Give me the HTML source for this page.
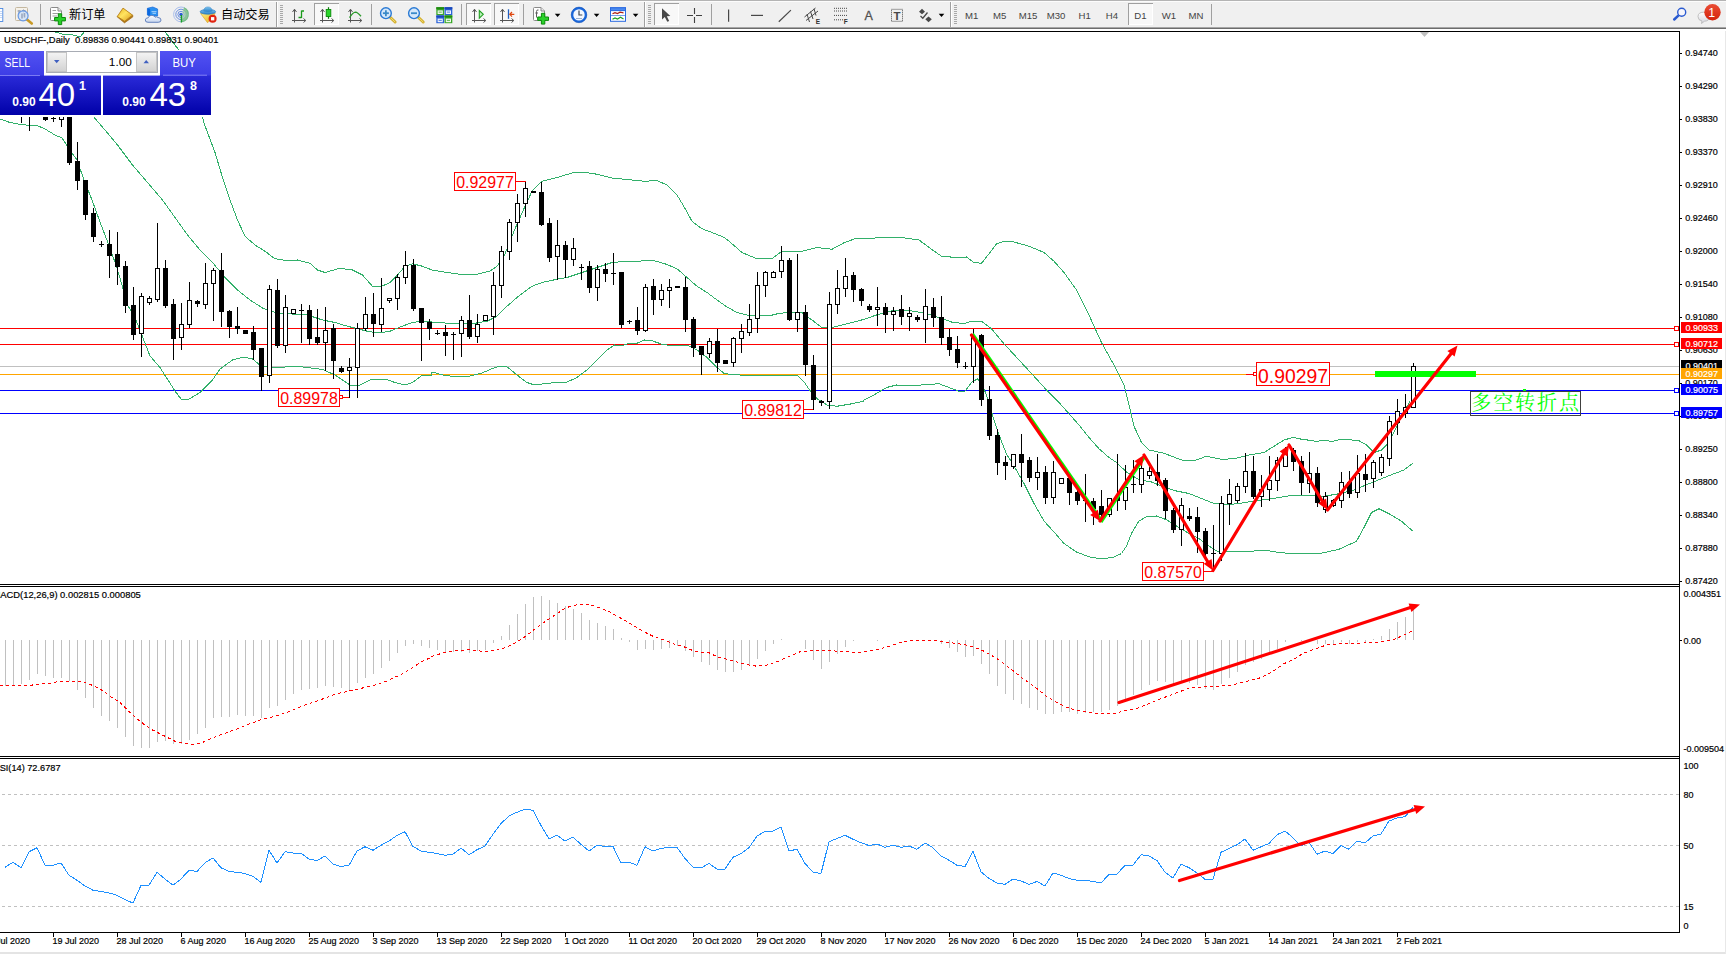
<!DOCTYPE html>
<html lang="zh"><head><meta charset="utf-8"><title>USDCHF-,Daily</title>
<style>
html,body{margin:0;padding:0;background:#fff;overflow:hidden}
body{width:1726px;height:954px;position:relative;font-family:"Liberation Sans", "Noto Sans CJK SC", sans-serif}
svg{position:absolute;left:0;top:0;display:block}
text{font-family:"Liberation Sans", "Noto Sans CJK SC", sans-serif}
.ax{font-size:9.6px;fill:#000;stroke:#000;stroke-width:0.2px}
.axw{font-size:9.6px;fill:#fff;stroke:#fff;stroke-width:0.2px}
.crisp{shape-rendering:crispEdges}
.tf{font-size:9.6px;fill:#444}
</style></head><body>
<svg width="1726" height="954" viewBox="0 0 1726 954">
<defs>
<linearGradient id="gsell" x1="0" y1="0" x2="0" y2="1"><stop offset="0" stop-color="#5252f2"/><stop offset="1" stop-color="#3c3ce6"/></linearGradient>
<linearGradient id="gprice" x1="0" y1="0" x2="0" y2="1"><stop offset="0" stop-color="#2a2ad8"/><stop offset="1" stop-color="#0000a8"/></linearGradient>
<linearGradient id="gbtn" x1="0" y1="0" x2="0" y2="1"><stop offset="0" stop-color="#f4f4f4"/><stop offset="1" stop-color="#d2d2d2"/></linearGradient>
</defs>
<rect width="1726" height="954" fill="#fff"/>

<g class="crisp">
<rect x="0" y="328" width="1679" height="1" fill="#ff0000"/>
<rect x="0" y="344" width="1679" height="1" fill="#ff0000"/>
<rect x="0" y="366" width="1679" height="1" fill="#c0c0c0"/>
<rect x="0" y="374" width="1679" height="1" fill="#ffa500"/>
<rect x="0" y="390" width="1679" height="1" fill="#0000ff"/>
<rect x="0" y="413" width="1679" height="1" fill="#0000ff"/>
<line x1="2" y1="794.5" x2="1679" y2="794.5" stroke="#c0c0c0" stroke-width="1" stroke-dasharray="3,3"/>
<line x1="2" y1="845.5" x2="1679" y2="845.5" stroke="#c0c0c0" stroke-width="1" stroke-dasharray="3,3"/>
<line x1="2" y1="906.5" x2="1679" y2="906.5" stroke="#c0c0c0" stroke-width="1" stroke-dasharray="3,3"/>
<polyline points="202,115 204,123 207.5,132.5 215,152.5 222.5,177.5 230,200 237.5,220 245,236.25 255,245 265,251.25 275,258.75 287.5,260.75 297.5,260 310,263.25 317.5,270 325,272.5 340,268.25 352.5,270 362.5,275 372.5,286.25 380,287 390,282.5 397.5,275 405,266.25 412.5,263.75 422.5,266.25 432,270 447,272.5 459.5,274.25 477,274.25 489.5,271.25 497,266.25 504.5,255 514.5,230 524.5,207.5 532,191.25 542,181.25 557,177.5 572,173 582,172 594.5,173.75 612,178 632,180 644.5,181.25 657,180.5 667,185 677,195 684.5,207.5 692,221.25 702,228.75 712,232.5 724.5,237.5 732,243.75 742,252.5 757,258.75 772,258.75 782,251.25 802,251.25 817,247.5 832,249.25 844.5,242.5 857,238 863.5,238 875,238 890,237.5 905,238 919,240 929,247.5 941.5,256.25 956.5,257.5 966.5,257 974,262.5 981.5,263.25 989,253.75 996.5,243.75 1004,241.25 1014,242 1029,246.25 1044,252.5 1054,261.25 1064,272.5 1076.5,290 1089,315 1101.5,342.5 1114,365 1124,385 1129,405 1134,426.25 1141.5,442.5 1149,450 1164,453.25 1181.5,460 1194,460.75 1206.5,456.25 1221.5,459.25 1234,458.75 1249,455 1264,452.5 1274,446.25 1284,440 1293.5,437.3 1300.5,439 1316.5,441.3 1322.5,440.5 1332.5,441.3 1339.5,439.6 1358,440.2 1366.5,445 1374,452.5 1381.5,450 1389,442.5 1396,428 1403,414 1410,401" fill="none" stroke="#32b06a" stroke-width="1"/>
<polyline points="92,115 93.75,117 105,130 117.5,145 132.5,165 147.5,182.5 162.5,200 175,217.5 187.5,235 200,250 212.5,262.5 225,277.5 237.5,290 250,300 262.5,308 275,312.5 287.5,313.75 307.5,315 322.5,320 335,322.5 347.5,326.25 357.5,328.75 367.5,331.25 377.5,333 390,331.25 400,327 412.5,322.5 422.5,321.25 432,322 444.5,323 457,323.75 472,323.75 487,321.25 497,316.25 507,306.25 517,297.5 532,286.25 542,282.5 557,279.25 567,277.5 582,272.5 597,267.5 612,262.5 627,261.25 637,261.75 647,260 657,261.25 667,264.5 677,268.75 687,277.5 697,286.25 707,292.5 717,300 727,307 737,312.5 747,315 757,315.75 769.5,315.75 779.5,313.25 789.5,312.5 802,312.5 812,320 822,327.5 832,327.5 847,323.75 863.5,319.5 876.5,315 889,311.25 901.5,310 914,311.25 926.5,313.75 939,317.5 951.5,322 964,323.75 971.5,321.25 981.5,321.25 991.5,328.75 1004,343.75 1019,360 1034,376.25 1046.5,390 1059,402.5 1069,413.75 1079,425 1089,437.5 1099,448.75 1109,457.5 1116.5,462.5 1126.5,472 1139,479.75 1151.5,482 1164,487 1176.5,491 1189,493.5 1201.5,498.5 1214,503.5 1226.5,504.75 1239,503.5 1254,501 1269,499 1284,496.75 1294,495 1309,495.5 1324,496.25 1339,493.75 1354,490 1369,483.75 1381.5,478.75 1394,473.75 1404,470 1413,463" fill="none" stroke="#32b06a" stroke-width="1"/>
<polyline points="0,119 10,122.5 18,124 26,125 37,125.5 45,129 55,135 62,138 66,144 72,153 77,160 84,180 92,200 100,222 108,243 116,265 122,285 127.5,305 135,317.5 150,356 160,367.5 175,391 181,399 189,399 200,392.5 212.5,380 220,369 232.5,360 244,357 252.5,359 261,366 275,368 295,366 307.5,367.5 322.5,369.5 335,375 350,385 360,385 372.5,379 385,379 395,382.5 405,385 412.5,382.5 422.5,375 431.5,375 432,372 444.5,375.5 457,376.75 469.5,376.25 482,373 492,368.75 499.5,366.25 507,366.75 517,375 527,382.5 534.5,385 547,383.25 567,382 577,377.5 587,370 597,360 607,350 614.5,345 622,345.75 629.5,343.25 637,343.25 644.5,340 652,340.75 662,344.25 672,345.75 687,345 697,350 707,357.5 717,367.5 724.5,373.75 740,375 770,375 797,375 804.5,382.5 809.5,390 817,398.75 827,405 837,406.25 852,403.75 863.5,401.25 864,400 874,395 886.5,387.5 896.5,385 914,385.75 926.5,384.5 939,383.75 949,387.5 959,391.25 965,391.25 971.5,382.5 977.5,378.75 984,388.75 989,402.5 994,420 1000,437.5 1006.5,454 1014,466 1024,483.5 1034,503.5 1044,521 1054,532 1064,543.5 1076.5,552 1089,556.75 1101.5,559 1114,557 1121.5,553.5 1126.5,546 1131.5,533.5 1139,521 1146.5,516.75 1156.5,516 1166.5,519.75 1176.5,526 1189,533.5 1199,538.5 1209,546 1216.5,551 1239,551.5 1254,551 1264,550 1279,552.5 1294,553.75 1319,553.75 1339,549.25 1356.5,541.25 1364,527.5 1371.5,512.5 1379,508.75 1389,513.75 1401.5,521.25 1413,531.25" fill="none" stroke="#32b06a" stroke-width="1"/>
<polyline points="52,31 64,34.5 70,34 80,37 85,31" fill="none" stroke="#32b06a" stroke-width="1"/>
<polyline points="164.5,31 178,49 186,70 194,93 202,115" fill="none" stroke="#32b06a" stroke-width="1"/>
<rect x="5" y="640" width="1" height="46" fill="#c0c0c0"/>
<rect x="13" y="640" width="1" height="45" fill="#c0c0c0"/>
<rect x="21" y="640" width="1" height="44" fill="#c0c0c0"/>
<rect x="29" y="640" width="1" height="40" fill="#c0c0c0"/>
<rect x="37" y="640" width="1" height="34" fill="#c0c0c0"/>
<rect x="45" y="640" width="1" height="36" fill="#c0c0c0"/>
<rect x="53" y="640" width="1" height="38" fill="#c0c0c0"/>
<rect x="61" y="640" width="1" height="38" fill="#c0c0c0"/>
<rect x="69" y="640" width="1" height="41" fill="#c0c0c0"/>
<rect x="77" y="640" width="1" height="50" fill="#c0c0c0"/>
<rect x="85" y="640" width="1" height="58" fill="#c0c0c0"/>
<rect x="93" y="640" width="1" height="68" fill="#c0c0c0"/>
<rect x="101" y="640" width="1" height="76" fill="#c0c0c0"/>
<rect x="109" y="640" width="1" height="81" fill="#c0c0c0"/>
<rect x="117" y="640" width="1" height="88" fill="#c0c0c0"/>
<rect x="125" y="640" width="1" height="97" fill="#c0c0c0"/>
<rect x="133" y="640" width="1" height="106" fill="#c0c0c0"/>
<rect x="141" y="640" width="1" height="108" fill="#c0c0c0"/>
<rect x="149" y="640" width="1" height="108" fill="#c0c0c0"/>
<rect x="157" y="640" width="1" height="102" fill="#c0c0c0"/>
<rect x="165" y="640" width="1" height="101" fill="#c0c0c0"/>
<rect x="173" y="640" width="1" height="104" fill="#c0c0c0"/>
<rect x="181" y="640" width="1" height="104" fill="#c0c0c0"/>
<rect x="189" y="640" width="1" height="100" fill="#c0c0c0"/>
<rect x="197" y="640" width="1" height="94" fill="#c0c0c0"/>
<rect x="205" y="640" width="1" height="88" fill="#c0c0c0"/>
<rect x="213" y="640" width="1" height="78" fill="#c0c0c0"/>
<rect x="221" y="640" width="1" height="77" fill="#c0c0c0"/>
<rect x="229" y="640" width="1" height="77" fill="#c0c0c0"/>
<rect x="237" y="640" width="1" height="75" fill="#c0c0c0"/>
<rect x="245" y="640" width="1" height="76" fill="#c0c0c0"/>
<rect x="253" y="640" width="1" height="76" fill="#c0c0c0"/>
<rect x="261" y="640" width="1" height="78" fill="#c0c0c0"/>
<rect x="269" y="640" width="1" height="68" fill="#c0c0c0"/>
<rect x="277" y="640" width="1" height="66" fill="#c0c0c0"/>
<rect x="285" y="640" width="1" height="60" fill="#c0c0c0"/>
<rect x="293" y="640" width="1" height="54" fill="#c0c0c0"/>
<rect x="301" y="640" width="1" height="50" fill="#c0c0c0"/>
<rect x="309" y="640" width="1" height="49" fill="#c0c0c0"/>
<rect x="317" y="640" width="1" height="48" fill="#c0c0c0"/>
<rect x="325" y="640" width="1" height="46" fill="#c0c0c0"/>
<rect x="333" y="640" width="1" height="47" fill="#c0c0c0"/>
<rect x="341" y="640" width="1" height="48" fill="#c0c0c0"/>
<rect x="349" y="640" width="1" height="50" fill="#c0c0c0"/>
<rect x="357" y="640" width="1" height="43" fill="#c0c0c0"/>
<rect x="365" y="640" width="1" height="38" fill="#c0c0c0"/>
<rect x="373" y="640" width="1" height="34" fill="#c0c0c0"/>
<rect x="381" y="640" width="1" height="28" fill="#c0c0c0"/>
<rect x="389" y="640" width="1" height="21" fill="#c0c0c0"/>
<rect x="397" y="640" width="1" height="13" fill="#c0c0c0"/>
<rect x="405" y="640" width="1" height="6" fill="#c0c0c0"/>
<rect x="413" y="640" width="1" height="4" fill="#c0c0c0"/>
<rect x="421" y="640" width="1" height="6" fill="#c0c0c0"/>
<rect x="429" y="640" width="1" height="8" fill="#c0c0c0"/>
<rect x="437" y="640" width="1" height="10" fill="#c0c0c0"/>
<rect x="445" y="640" width="1" height="12" fill="#c0c0c0"/>
<rect x="453" y="640" width="1" height="12" fill="#c0c0c0"/>
<rect x="461" y="640" width="1" height="12" fill="#c0c0c0"/>
<rect x="469" y="640" width="1" height="13" fill="#c0c0c0"/>
<rect x="477" y="640" width="1" height="11" fill="#c0c0c0"/>
<rect x="485" y="640" width="1" height="10" fill="#c0c0c0"/>
<rect x="493" y="640" width="1" height="3" fill="#c0c0c0"/>
<rect x="501" y="636" width="1" height="4" fill="#c0c0c0"/>
<rect x="509" y="625" width="1" height="15" fill="#c0c0c0"/>
<rect x="517" y="614" width="1" height="26" fill="#c0c0c0"/>
<rect x="525" y="604" width="1" height="36" fill="#c0c0c0"/>
<rect x="533" y="597" width="1" height="43" fill="#c0c0c0"/>
<rect x="541" y="596" width="1" height="44" fill="#c0c0c0"/>
<rect x="549" y="600" width="1" height="40" fill="#c0c0c0"/>
<rect x="557" y="603" width="1" height="37" fill="#c0c0c0"/>
<rect x="565" y="606" width="1" height="34" fill="#c0c0c0"/>
<rect x="573" y="609" width="1" height="31" fill="#c0c0c0"/>
<rect x="581" y="613" width="1" height="27" fill="#c0c0c0"/>
<rect x="589" y="620" width="1" height="20" fill="#c0c0c0"/>
<rect x="597" y="623" width="1" height="17" fill="#c0c0c0"/>
<rect x="605" y="626" width="1" height="14" fill="#c0c0c0"/>
<rect x="613" y="629" width="1" height="11" fill="#c0c0c0"/>
<rect x="621" y="638" width="1" height="2" fill="#c0c0c0"/>
<rect x="629" y="640" width="1" height="2" fill="#c0c0c0"/>
<rect x="637" y="640" width="1" height="10" fill="#c0c0c0"/>
<rect x="645" y="640" width="1" height="9" fill="#c0c0c0"/>
<rect x="653" y="640" width="1" height="10" fill="#c0c0c0"/>
<rect x="661" y="640" width="1" height="9" fill="#c0c0c0"/>
<rect x="669" y="640" width="1" height="8" fill="#c0c0c0"/>
<rect x="677" y="640" width="1" height="6" fill="#c0c0c0"/>
<rect x="685" y="640" width="1" height="11" fill="#c0c0c0"/>
<rect x="693" y="640" width="1" height="17" fill="#c0c0c0"/>
<rect x="701" y="640" width="1" height="22" fill="#c0c0c0"/>
<rect x="709" y="640" width="1" height="25" fill="#c0c0c0"/>
<rect x="717" y="640" width="1" height="30" fill="#c0c0c0"/>
<rect x="725" y="640" width="1" height="32" fill="#c0c0c0"/>
<rect x="733" y="640" width="1" height="32" fill="#c0c0c0"/>
<rect x="741" y="640" width="1" height="30" fill="#c0c0c0"/>
<rect x="749" y="640" width="1" height="26" fill="#c0c0c0"/>
<rect x="757" y="640" width="1" height="19" fill="#c0c0c0"/>
<rect x="765" y="640" width="1" height="11" fill="#c0c0c0"/>
<rect x="773" y="640" width="1" height="4" fill="#c0c0c0"/>
<rect x="781" y="639" width="1" height="1" fill="#c0c0c0"/>
<rect x="805" y="640" width="1" height="9" fill="#c0c0c0"/>
<rect x="813" y="640" width="1" height="20" fill="#c0c0c0"/>
<rect x="821" y="640" width="1" height="29" fill="#c0c0c0"/>
<rect x="829" y="640" width="1" height="22" fill="#c0c0c0"/>
<rect x="837" y="640" width="1" height="14" fill="#c0c0c0"/>
<rect x="845" y="640" width="1" height="7" fill="#c0c0c0"/>
<rect x="853" y="640" width="1" height="1" fill="#c0c0c0"/>
<rect x="877" y="640" width="1" height="1" fill="#c0c0c0"/>
<rect x="917" y="640" width="1" height="1" fill="#c0c0c0"/>
<rect x="941" y="640" width="1" height="4" fill="#c0c0c0"/>
<rect x="949" y="640" width="1" height="8" fill="#c0c0c0"/>
<rect x="957" y="640" width="1" height="12" fill="#c0c0c0"/>
<rect x="965" y="640" width="1" height="17" fill="#c0c0c0"/>
<rect x="973" y="640" width="1" height="16" fill="#c0c0c0"/>
<rect x="981" y="640" width="1" height="24" fill="#c0c0c0"/>
<rect x="989" y="640" width="1" height="34" fill="#c0c0c0"/>
<rect x="997" y="640" width="1" height="46" fill="#c0c0c0"/>
<rect x="1005" y="640" width="1" height="54" fill="#c0c0c0"/>
<rect x="1013" y="640" width="1" height="60" fill="#c0c0c0"/>
<rect x="1021" y="640" width="1" height="64" fill="#c0c0c0"/>
<rect x="1029" y="640" width="1" height="68" fill="#c0c0c0"/>
<rect x="1037" y="640" width="1" height="70" fill="#c0c0c0"/>
<rect x="1045" y="640" width="1" height="74" fill="#c0c0c0"/>
<rect x="1053" y="640" width="1" height="74" fill="#c0c0c0"/>
<rect x="1061" y="640" width="1" height="72" fill="#c0c0c0"/>
<rect x="1069" y="640" width="1" height="72" fill="#c0c0c0"/>
<rect x="1077" y="640" width="1" height="74" fill="#c0c0c0"/>
<rect x="1085" y="640" width="1" height="73" fill="#c0c0c0"/>
<rect x="1093" y="640" width="1" height="72" fill="#c0c0c0"/>
<rect x="1101" y="640" width="1" height="72" fill="#c0c0c0"/>
<rect x="1109" y="640" width="1" height="70" fill="#c0c0c0"/>
<rect x="1117" y="640" width="1" height="66" fill="#c0c0c0"/>
<rect x="1125" y="640" width="1" height="60" fill="#c0c0c0"/>
<rect x="1133" y="640" width="1" height="55" fill="#c0c0c0"/>
<rect x="1141" y="640" width="1" height="50" fill="#c0c0c0"/>
<rect x="1149" y="640" width="1" height="45" fill="#c0c0c0"/>
<rect x="1157" y="640" width="1" height="41" fill="#c0c0c0"/>
<rect x="1165" y="640" width="1" height="42" fill="#c0c0c0"/>
<rect x="1173" y="640" width="1" height="44" fill="#c0c0c0"/>
<rect x="1181" y="640" width="1" height="42" fill="#c0c0c0"/>
<rect x="1189" y="640" width="1" height="43" fill="#c0c0c0"/>
<rect x="1197" y="640" width="1" height="45" fill="#c0c0c0"/>
<rect x="1205" y="640" width="1" height="49" fill="#c0c0c0"/>
<rect x="1213" y="640" width="1" height="50" fill="#c0c0c0"/>
<rect x="1221" y="640" width="1" height="44" fill="#c0c0c0"/>
<rect x="1229" y="640" width="1" height="38" fill="#c0c0c0"/>
<rect x="1237" y="640" width="1" height="32" fill="#c0c0c0"/>
<rect x="1245" y="640" width="1" height="25" fill="#c0c0c0"/>
<rect x="1253" y="640" width="1" height="22" fill="#c0c0c0"/>
<rect x="1261" y="640" width="1" height="19" fill="#c0c0c0"/>
<rect x="1269" y="640" width="1" height="14" fill="#c0c0c0"/>
<rect x="1277" y="640" width="1" height="9" fill="#c0c0c0"/>
<rect x="1285" y="640" width="1" height="2" fill="#c0c0c0"/>
<rect x="1301" y="640" width="1" height="1" fill="#c0c0c0"/>
<rect x="1309" y="640" width="1" height="1" fill="#c0c0c0"/>
<rect x="1317" y="640" width="1" height="4" fill="#c0c0c0"/>
<rect x="1325" y="640" width="1" height="4" fill="#c0c0c0"/>
<rect x="1333" y="640" width="1" height="4" fill="#c0c0c0"/>
<rect x="1341" y="640" width="1" height="2" fill="#c0c0c0"/>
<rect x="1349" y="640" width="1" height="4" fill="#c0c0c0"/>
<rect x="1357" y="640" width="1" height="2" fill="#c0c0c0"/>
<rect x="1365" y="640" width="1" height="2" fill="#c0c0c0"/>
<rect x="1373" y="639" width="1" height="1" fill="#c0c0c0"/>
<rect x="1381" y="636" width="1" height="4" fill="#c0c0c0"/>
<rect x="1389" y="629" width="1" height="11" fill="#c0c0c0"/>
<rect x="1397" y="622" width="1" height="18" fill="#c0c0c0"/>
<rect x="1405" y="617" width="1" height="23" fill="#c0c0c0"/>
<rect x="1413" y="610" width="1" height="30" fill="#c0c0c0"/>
<rect x="21" y="117" width="1" height="6" fill="#000"/>
<rect x="29" y="117" width="1" height="14" fill="#000"/>
<rect x="45" y="115" width="1" height="6" fill="#000"/>
<rect x="43" y="115" width="5" height="5" fill="#000"/>
<rect x="53" y="115" width="1" height="7" fill="#000"/>
<rect x="51" y="118" width="5" height="1" fill="#000"/>
<rect x="61" y="115" width="1" height="12" fill="#000"/>
<rect x="59" y="115" width="5" height="5" fill="#000"/>
<rect x="60" y="116" width="3" height="3" fill="#fff"/>
<rect x="69" y="115" width="1" height="50" fill="#000"/>
<rect x="67" y="115" width="5" height="48" fill="#000"/>
<rect x="77" y="142" width="1" height="48" fill="#000"/>
<rect x="75" y="161" width="5" height="20" fill="#000"/>
<rect x="85" y="180" width="1" height="40" fill="#000"/>
<rect x="83" y="180" width="5" height="35" fill="#000"/>
<rect x="93" y="208" width="1" height="34" fill="#000"/>
<rect x="91" y="213" width="5" height="24" fill="#000"/>
<rect x="101" y="241" width="1" height="6" fill="#000"/>
<rect x="99" y="244" width="5" height="1" fill="#000"/>
<rect x="109" y="230" width="1" height="48" fill="#000"/>
<rect x="107" y="244" width="5" height="12" fill="#000"/>
<rect x="117" y="232" width="1" height="53" fill="#000"/>
<rect x="115" y="254" width="5" height="13" fill="#000"/>
<rect x="125" y="261" width="1" height="52" fill="#000"/>
<rect x="123" y="266" width="5" height="40" fill="#000"/>
<rect x="133" y="287" width="1" height="53" fill="#000"/>
<rect x="131" y="305" width="5" height="30" fill="#000"/>
<rect x="141" y="293" width="1" height="64" fill="#000"/>
<rect x="139" y="296" width="5" height="38" fill="#000"/>
<rect x="140" y="297" width="3" height="36" fill="#fff"/>
<rect x="149" y="296" width="1" height="9" fill="#000"/>
<rect x="147" y="298" width="5" height="5" fill="#000"/>
<rect x="148" y="299" width="3" height="3" fill="#fff"/>
<rect x="157" y="223" width="1" height="79" fill="#000"/>
<rect x="155" y="268" width="5" height="32" fill="#000"/>
<rect x="156" y="269" width="3" height="30" fill="#fff"/>
<rect x="165" y="260" width="1" height="48" fill="#000"/>
<rect x="163" y="268" width="5" height="38" fill="#000"/>
<rect x="173" y="299" width="1" height="61" fill="#000"/>
<rect x="171" y="304" width="5" height="35" fill="#000"/>
<rect x="181" y="303" width="1" height="47" fill="#000"/>
<rect x="179" y="324" width="5" height="14" fill="#000"/>
<rect x="180" y="325" width="3" height="12" fill="#fff"/>
<rect x="189" y="282" width="1" height="46" fill="#000"/>
<rect x="187" y="300" width="5" height="25" fill="#000"/>
<rect x="188" y="301" width="3" height="23" fill="#fff"/>
<rect x="197" y="300" width="1" height="7" fill="#000"/>
<rect x="195" y="301" width="5" height="3" fill="#000"/>
<rect x="205" y="263" width="1" height="46" fill="#000"/>
<rect x="203" y="283" width="5" height="22" fill="#000"/>
<rect x="204" y="284" width="3" height="20" fill="#fff"/>
<rect x="213" y="268" width="1" height="53" fill="#000"/>
<rect x="211" y="270" width="5" height="14" fill="#000"/>
<rect x="212" y="271" width="3" height="12" fill="#fff"/>
<rect x="221" y="253" width="1" height="74" fill="#000"/>
<rect x="219" y="270" width="5" height="42" fill="#000"/>
<rect x="229" y="310" width="1" height="28" fill="#000"/>
<rect x="227" y="311" width="5" height="16" fill="#000"/>
<rect x="237" y="307" width="1" height="27" fill="#000"/>
<rect x="235" y="326" width="5" height="3" fill="#000"/>
<rect x="245" y="330" width="1" height="4" fill="#000"/>
<rect x="243" y="330" width="5" height="4" fill="#000"/>
<rect x="253" y="326" width="1" height="34" fill="#000"/>
<rect x="251" y="332" width="5" height="18" fill="#000"/>
<rect x="261" y="348" width="1" height="43" fill="#000"/>
<rect x="259" y="348" width="5" height="29" fill="#000"/>
<rect x="269" y="285" width="1" height="98" fill="#000"/>
<rect x="267" y="289" width="5" height="87" fill="#000"/>
<rect x="268" y="290" width="3" height="85" fill="#fff"/>
<rect x="277" y="279" width="1" height="69" fill="#000"/>
<rect x="275" y="290" width="5" height="56" fill="#000"/>
<rect x="285" y="295" width="1" height="58" fill="#000"/>
<rect x="283" y="307" width="5" height="39" fill="#000"/>
<rect x="284" y="308" width="3" height="37" fill="#fff"/>
<rect x="293" y="309" width="1" height="5" fill="#000"/>
<rect x="291" y="309" width="5" height="5" fill="#000"/>
<rect x="292" y="310" width="3" height="3" fill="#fff"/>
<rect x="301" y="304" width="1" height="39" fill="#000"/>
<rect x="299" y="310" width="5" height="1" fill="#000"/>
<rect x="309" y="305" width="1" height="40" fill="#000"/>
<rect x="307" y="310" width="5" height="29" fill="#000"/>
<rect x="317" y="309" width="1" height="36" fill="#000"/>
<rect x="315" y="337" width="5" height="6" fill="#000"/>
<rect x="325" y="307" width="1" height="64" fill="#000"/>
<rect x="323" y="330" width="5" height="13" fill="#000"/>
<rect x="324" y="331" width="3" height="11" fill="#fff"/>
<rect x="333" y="324" width="1" height="55" fill="#000"/>
<rect x="331" y="328" width="5" height="33" fill="#000"/>
<rect x="341" y="366" width="1" height="7" fill="#000"/>
<rect x="339" y="368" width="5" height="4" fill="#000"/>
<rect x="349" y="358" width="1" height="40" fill="#000"/>
<rect x="347" y="367" width="5" height="4" fill="#000"/>
<rect x="348" y="368" width="3" height="2" fill="#fff"/>
<rect x="357" y="323" width="1" height="75" fill="#000"/>
<rect x="355" y="328" width="5" height="40" fill="#000"/>
<rect x="356" y="329" width="3" height="38" fill="#fff"/>
<rect x="365" y="297" width="1" height="34" fill="#000"/>
<rect x="363" y="314" width="5" height="15" fill="#000"/>
<rect x="364" y="315" width="3" height="13" fill="#fff"/>
<rect x="373" y="293" width="1" height="44" fill="#000"/>
<rect x="371" y="314" width="5" height="10" fill="#000"/>
<rect x="381" y="278" width="1" height="54" fill="#000"/>
<rect x="379" y="308" width="5" height="17" fill="#000"/>
<rect x="380" y="309" width="3" height="15" fill="#fff"/>
<rect x="389" y="298" width="1" height="5" fill="#000"/>
<rect x="387" y="298" width="5" height="3" fill="#000"/>
<rect x="388" y="299" width="3" height="1" fill="#fff"/>
<rect x="397" y="274" width="1" height="36" fill="#000"/>
<rect x="395" y="277" width="5" height="22" fill="#000"/>
<rect x="396" y="278" width="3" height="20" fill="#fff"/>
<rect x="405" y="251" width="1" height="33" fill="#000"/>
<rect x="403" y="265" width="5" height="13" fill="#000"/>
<rect x="404" y="266" width="3" height="11" fill="#fff"/>
<rect x="413" y="259" width="1" height="52" fill="#000"/>
<rect x="411" y="265" width="5" height="44" fill="#000"/>
<rect x="421" y="308" width="1" height="53" fill="#000"/>
<rect x="419" y="308" width="5" height="15" fill="#000"/>
<rect x="429" y="319" width="1" height="21" fill="#000"/>
<rect x="427" y="322" width="5" height="7" fill="#000"/>
<rect x="437" y="330" width="1" height="5" fill="#000"/>
<rect x="435" y="333" width="5" height="1" fill="#000"/>
<rect x="445" y="325" width="1" height="31" fill="#000"/>
<rect x="443" y="332" width="5" height="4" fill="#000"/>
<rect x="453" y="332" width="1" height="28" fill="#000"/>
<rect x="451" y="334" width="5" height="1" fill="#000"/>
<rect x="461" y="316" width="1" height="41" fill="#000"/>
<rect x="459" y="320" width="5" height="14" fill="#000"/>
<rect x="460" y="321" width="3" height="12" fill="#fff"/>
<rect x="469" y="295" width="1" height="44" fill="#000"/>
<rect x="467" y="320" width="5" height="17" fill="#000"/>
<rect x="477" y="314" width="1" height="29" fill="#000"/>
<rect x="475" y="324" width="5" height="13" fill="#000"/>
<rect x="476" y="325" width="3" height="11" fill="#fff"/>
<rect x="485" y="315" width="1" height="6" fill="#000"/>
<rect x="483" y="315" width="5" height="6" fill="#000"/>
<rect x="484" y="316" width="3" height="4" fill="#fff"/>
<rect x="493" y="272" width="1" height="63" fill="#000"/>
<rect x="491" y="285" width="5" height="32" fill="#000"/>
<rect x="492" y="286" width="3" height="30" fill="#fff"/>
<rect x="501" y="246" width="1" height="52" fill="#000"/>
<rect x="499" y="251" width="5" height="35" fill="#000"/>
<rect x="500" y="252" width="3" height="33" fill="#fff"/>
<rect x="509" y="219" width="1" height="41" fill="#000"/>
<rect x="507" y="222" width="5" height="30" fill="#000"/>
<rect x="508" y="223" width="3" height="28" fill="#fff"/>
<rect x="517" y="194" width="1" height="48" fill="#000"/>
<rect x="515" y="203" width="5" height="20" fill="#000"/>
<rect x="516" y="204" width="3" height="18" fill="#fff"/>
<rect x="525" y="181" width="1" height="36" fill="#000"/>
<rect x="523" y="188" width="5" height="16" fill="#000"/>
<rect x="524" y="189" width="3" height="14" fill="#fff"/>
<rect x="533" y="191" width="1" height="2" fill="#000"/>
<rect x="531" y="191" width="5" height="2" fill="#000"/>
<rect x="541" y="182" width="1" height="44" fill="#000"/>
<rect x="539" y="192" width="5" height="33" fill="#000"/>
<rect x="549" y="218" width="1" height="44" fill="#000"/>
<rect x="547" y="223" width="5" height="35" fill="#000"/>
<rect x="557" y="220" width="1" height="60" fill="#000"/>
<rect x="555" y="245" width="5" height="12" fill="#000"/>
<rect x="556" y="246" width="3" height="10" fill="#fff"/>
<rect x="565" y="241" width="1" height="37" fill="#000"/>
<rect x="563" y="245" width="5" height="15" fill="#000"/>
<rect x="573" y="238" width="1" height="28" fill="#000"/>
<rect x="571" y="248" width="5" height="12" fill="#000"/>
<rect x="572" y="249" width="3" height="10" fill="#fff"/>
<rect x="581" y="264" width="1" height="16" fill="#000"/>
<rect x="579" y="267" width="5" height="1" fill="#000"/>
<rect x="589" y="261" width="1" height="32" fill="#000"/>
<rect x="587" y="266" width="5" height="22" fill="#000"/>
<rect x="597" y="265" width="1" height="36" fill="#000"/>
<rect x="595" y="269" width="5" height="19" fill="#000"/>
<rect x="596" y="270" width="3" height="17" fill="#fff"/>
<rect x="605" y="263" width="1" height="19" fill="#000"/>
<rect x="603" y="269" width="5" height="5" fill="#000"/>
<rect x="613" y="253" width="1" height="32" fill="#000"/>
<rect x="611" y="273" width="5" height="1" fill="#000"/>
<rect x="621" y="272" width="1" height="56" fill="#000"/>
<rect x="619" y="272" width="5" height="53" fill="#000"/>
<rect x="629" y="320" width="1" height="4" fill="#000"/>
<rect x="627" y="321" width="5" height="1" fill="#000"/>
<rect x="637" y="307" width="1" height="28" fill="#000"/>
<rect x="635" y="320" width="5" height="11" fill="#000"/>
<rect x="645" y="284" width="1" height="48" fill="#000"/>
<rect x="643" y="287" width="5" height="44" fill="#000"/>
<rect x="644" y="288" width="3" height="42" fill="#fff"/>
<rect x="653" y="279" width="1" height="36" fill="#000"/>
<rect x="651" y="286" width="5" height="14" fill="#000"/>
<rect x="661" y="284" width="1" height="22" fill="#000"/>
<rect x="659" y="290" width="5" height="10" fill="#000"/>
<rect x="660" y="291" width="3" height="8" fill="#fff"/>
<rect x="669" y="279" width="1" height="29" fill="#000"/>
<rect x="667" y="287" width="5" height="4" fill="#000"/>
<rect x="668" y="288" width="3" height="2" fill="#fff"/>
<rect x="677" y="286" width="1" height="2" fill="#000"/>
<rect x="675" y="286" width="5" height="2" fill="#000"/>
<rect x="685" y="277" width="1" height="55" fill="#000"/>
<rect x="683" y="287" width="5" height="33" fill="#000"/>
<rect x="693" y="317" width="1" height="40" fill="#000"/>
<rect x="691" y="319" width="5" height="29" fill="#000"/>
<rect x="701" y="346" width="1" height="29" fill="#000"/>
<rect x="699" y="346" width="5" height="9" fill="#000"/>
<rect x="709" y="338" width="1" height="20" fill="#000"/>
<rect x="707" y="341" width="5" height="13" fill="#000"/>
<rect x="708" y="342" width="3" height="11" fill="#fff"/>
<rect x="717" y="329" width="1" height="43" fill="#000"/>
<rect x="715" y="341" width="5" height="22" fill="#000"/>
<rect x="725" y="360" width="1" height="4" fill="#000"/>
<rect x="723" y="360" width="5" height="4" fill="#000"/>
<rect x="733" y="337" width="1" height="30" fill="#000"/>
<rect x="731" y="338" width="5" height="25" fill="#000"/>
<rect x="732" y="339" width="3" height="23" fill="#fff"/>
<rect x="741" y="324" width="1" height="29" fill="#000"/>
<rect x="739" y="331" width="5" height="8" fill="#000"/>
<rect x="740" y="332" width="3" height="6" fill="#fff"/>
<rect x="749" y="304" width="1" height="32" fill="#000"/>
<rect x="747" y="319" width="5" height="14" fill="#000"/>
<rect x="748" y="320" width="3" height="12" fill="#fff"/>
<rect x="757" y="272" width="1" height="61" fill="#000"/>
<rect x="755" y="285" width="5" height="34" fill="#000"/>
<rect x="756" y="286" width="3" height="32" fill="#fff"/>
<rect x="765" y="271" width="1" height="26" fill="#000"/>
<rect x="763" y="272" width="5" height="14" fill="#000"/>
<rect x="764" y="273" width="3" height="12" fill="#fff"/>
<rect x="773" y="271" width="1" height="7" fill="#000"/>
<rect x="771" y="272" width="5" height="6" fill="#000"/>
<rect x="772" y="273" width="3" height="4" fill="#fff"/>
<rect x="781" y="246" width="1" height="32" fill="#000"/>
<rect x="779" y="260" width="5" height="12" fill="#000"/>
<rect x="780" y="261" width="3" height="10" fill="#fff"/>
<rect x="789" y="258" width="1" height="63" fill="#000"/>
<rect x="787" y="260" width="5" height="60" fill="#000"/>
<rect x="797" y="254" width="1" height="78" fill="#000"/>
<rect x="795" y="312" width="5" height="8" fill="#000"/>
<rect x="796" y="313" width="3" height="6" fill="#fff"/>
<rect x="805" y="305" width="1" height="71" fill="#000"/>
<rect x="803" y="312" width="5" height="53" fill="#000"/>
<rect x="813" y="355" width="1" height="55" fill="#000"/>
<rect x="811" y="365" width="5" height="35" fill="#000"/>
<rect x="821" y="400" width="1" height="6" fill="#000"/>
<rect x="819" y="401" width="5" height="2" fill="#000"/>
<rect x="829" y="292" width="1" height="117" fill="#000"/>
<rect x="827" y="304" width="5" height="98" fill="#000"/>
<rect x="828" y="305" width="3" height="96" fill="#fff"/>
<rect x="837" y="270" width="1" height="44" fill="#000"/>
<rect x="835" y="288" width="5" height="17" fill="#000"/>
<rect x="836" y="289" width="3" height="15" fill="#fff"/>
<rect x="845" y="258" width="1" height="39" fill="#000"/>
<rect x="843" y="276" width="5" height="13" fill="#000"/>
<rect x="844" y="277" width="3" height="11" fill="#fff"/>
<rect x="853" y="272" width="1" height="30" fill="#000"/>
<rect x="851" y="275" width="5" height="15" fill="#000"/>
<rect x="861" y="288" width="1" height="18" fill="#000"/>
<rect x="859" y="289" width="5" height="12" fill="#000"/>
<rect x="869" y="304" width="1" height="8" fill="#000"/>
<rect x="867" y="306" width="5" height="4" fill="#000"/>
<rect x="877" y="287" width="1" height="39" fill="#000"/>
<rect x="875" y="307" width="5" height="3" fill="#000"/>
<rect x="876" y="308" width="3" height="1" fill="#fff"/>
<rect x="885" y="303" width="1" height="30" fill="#000"/>
<rect x="883" y="307" width="5" height="8" fill="#000"/>
<rect x="893" y="307" width="1" height="24" fill="#000"/>
<rect x="891" y="311" width="5" height="4" fill="#000"/>
<rect x="892" y="312" width="3" height="2" fill="#fff"/>
<rect x="901" y="295" width="1" height="30" fill="#000"/>
<rect x="899" y="309" width="5" height="8" fill="#000"/>
<rect x="909" y="307" width="1" height="24" fill="#000"/>
<rect x="907" y="313" width="5" height="4" fill="#000"/>
<rect x="908" y="314" width="3" height="2" fill="#fff"/>
<rect x="917" y="315" width="1" height="7" fill="#000"/>
<rect x="915" y="317" width="5" height="3" fill="#000"/>
<rect x="925" y="289" width="1" height="54" fill="#000"/>
<rect x="923" y="306" width="5" height="14" fill="#000"/>
<rect x="924" y="307" width="3" height="12" fill="#fff"/>
<rect x="933" y="298" width="1" height="29" fill="#000"/>
<rect x="931" y="307" width="5" height="11" fill="#000"/>
<rect x="941" y="296" width="1" height="49" fill="#000"/>
<rect x="939" y="317" width="5" height="21" fill="#000"/>
<rect x="949" y="329" width="1" height="27" fill="#000"/>
<rect x="947" y="337" width="5" height="13" fill="#000"/>
<rect x="957" y="336" width="1" height="32" fill="#000"/>
<rect x="955" y="349" width="5" height="14" fill="#000"/>
<rect x="965" y="362" width="1" height="7" fill="#000"/>
<rect x="963" y="366" width="5" height="1" fill="#000"/>
<rect x="973" y="329" width="1" height="54" fill="#000"/>
<rect x="971" y="336" width="5" height="31" fill="#000"/>
<rect x="972" y="337" width="3" height="29" fill="#fff"/>
<rect x="981" y="334" width="1" height="72" fill="#000"/>
<rect x="979" y="335" width="5" height="65" fill="#000"/>
<rect x="989" y="386" width="1" height="54" fill="#000"/>
<rect x="987" y="399" width="5" height="37" fill="#000"/>
<rect x="997" y="429" width="1" height="46" fill="#000"/>
<rect x="995" y="435" width="5" height="28" fill="#000"/>
<rect x="1005" y="456" width="1" height="24" fill="#000"/>
<rect x="1003" y="462" width="5" height="4" fill="#000"/>
<rect x="1013" y="454" width="1" height="15" fill="#000"/>
<rect x="1011" y="454" width="5" height="13" fill="#000"/>
<rect x="1012" y="455" width="3" height="11" fill="#fff"/>
<rect x="1021" y="434" width="1" height="53" fill="#000"/>
<rect x="1019" y="454" width="5" height="9" fill="#000"/>
<rect x="1029" y="457" width="1" height="25" fill="#000"/>
<rect x="1027" y="460" width="5" height="18" fill="#000"/>
<rect x="1037" y="457" width="1" height="33" fill="#000"/>
<rect x="1035" y="472" width="5" height="6" fill="#000"/>
<rect x="1036" y="473" width="3" height="4" fill="#fff"/>
<rect x="1045" y="466" width="1" height="38" fill="#000"/>
<rect x="1043" y="472" width="5" height="26" fill="#000"/>
<rect x="1053" y="461" width="1" height="43" fill="#000"/>
<rect x="1051" y="472" width="5" height="26" fill="#000"/>
<rect x="1052" y="473" width="3" height="24" fill="#fff"/>
<rect x="1061" y="478" width="1" height="6" fill="#000"/>
<rect x="1059" y="478" width="5" height="6" fill="#000"/>
<rect x="1060" y="479" width="3" height="4" fill="#fff"/>
<rect x="1069" y="477" width="1" height="28" fill="#000"/>
<rect x="1067" y="478" width="5" height="15" fill="#000"/>
<rect x="1077" y="490" width="1" height="15" fill="#000"/>
<rect x="1075" y="492" width="5" height="9" fill="#000"/>
<rect x="1085" y="474" width="1" height="48" fill="#000"/>
<rect x="1083" y="500" width="5" height="1" fill="#000"/>
<rect x="1093" y="498" width="1" height="27" fill="#000"/>
<rect x="1091" y="501" width="5" height="8" fill="#000"/>
<rect x="1101" y="490" width="1" height="29" fill="#000"/>
<rect x="1099" y="506" width="5" height="9" fill="#000"/>
<rect x="1109" y="498" width="1" height="19" fill="#000"/>
<rect x="1107" y="498" width="5" height="17" fill="#000"/>
<rect x="1108" y="499" width="3" height="15" fill="#fff"/>
<rect x="1117" y="454" width="1" height="57" fill="#000"/>
<rect x="1115" y="496" width="5" height="5" fill="#000"/>
<rect x="1125" y="465" width="1" height="45" fill="#000"/>
<rect x="1123" y="487" width="5" height="14" fill="#000"/>
<rect x="1124" y="488" width="3" height="12" fill="#fff"/>
<rect x="1133" y="460" width="1" height="33" fill="#000"/>
<rect x="1131" y="484" width="5" height="1" fill="#000"/>
<rect x="1141" y="460" width="1" height="33" fill="#000"/>
<rect x="1139" y="468" width="5" height="17" fill="#000"/>
<rect x="1140" y="469" width="3" height="15" fill="#fff"/>
<rect x="1149" y="467" width="1" height="12" fill="#000"/>
<rect x="1147" y="471" width="5" height="5" fill="#000"/>
<rect x="1148" y="472" width="3" height="3" fill="#fff"/>
<rect x="1157" y="454" width="1" height="32" fill="#000"/>
<rect x="1155" y="472" width="5" height="9" fill="#000"/>
<rect x="1165" y="478" width="1" height="41" fill="#000"/>
<rect x="1163" y="480" width="5" height="31" fill="#000"/>
<rect x="1173" y="508" width="1" height="25" fill="#000"/>
<rect x="1171" y="510" width="5" height="20" fill="#000"/>
<rect x="1181" y="498" width="1" height="48" fill="#000"/>
<rect x="1179" y="505" width="5" height="25" fill="#000"/>
<rect x="1180" y="506" width="3" height="23" fill="#fff"/>
<rect x="1189" y="508" width="1" height="13" fill="#000"/>
<rect x="1187" y="516" width="5" height="3" fill="#000"/>
<rect x="1197" y="507" width="1" height="46" fill="#000"/>
<rect x="1195" y="517" width="5" height="15" fill="#000"/>
<rect x="1205" y="528" width="1" height="29" fill="#000"/>
<rect x="1203" y="531" width="5" height="23" fill="#000"/>
<rect x="1213" y="525" width="1" height="46" fill="#000"/>
<rect x="1211" y="553" width="5" height="1" fill="#000"/>
<rect x="1221" y="496" width="1" height="65" fill="#000"/>
<rect x="1219" y="503" width="5" height="51" fill="#000"/>
<rect x="1220" y="504" width="3" height="49" fill="#fff"/>
<rect x="1229" y="479" width="1" height="46" fill="#000"/>
<rect x="1227" y="494" width="5" height="10" fill="#000"/>
<rect x="1228" y="495" width="3" height="8" fill="#fff"/>
<rect x="1237" y="483" width="1" height="20" fill="#000"/>
<rect x="1235" y="486" width="5" height="15" fill="#000"/>
<rect x="1236" y="487" width="3" height="13" fill="#fff"/>
<rect x="1245" y="453" width="1" height="40" fill="#000"/>
<rect x="1243" y="471" width="5" height="16" fill="#000"/>
<rect x="1244" y="472" width="3" height="14" fill="#fff"/>
<rect x="1253" y="456" width="1" height="43" fill="#000"/>
<rect x="1251" y="471" width="5" height="26" fill="#000"/>
<rect x="1261" y="475" width="1" height="32" fill="#000"/>
<rect x="1259" y="489" width="5" height="8" fill="#000"/>
<rect x="1260" y="490" width="3" height="6" fill="#fff"/>
<rect x="1269" y="456" width="1" height="45" fill="#000"/>
<rect x="1267" y="480" width="5" height="10" fill="#000"/>
<rect x="1268" y="481" width="3" height="8" fill="#fff"/>
<rect x="1277" y="457" width="1" height="34" fill="#000"/>
<rect x="1275" y="460" width="5" height="21" fill="#000"/>
<rect x="1276" y="461" width="3" height="19" fill="#fff"/>
<rect x="1285" y="447" width="1" height="20" fill="#000"/>
<rect x="1283" y="452" width="5" height="15" fill="#000"/>
<rect x="1284" y="453" width="3" height="13" fill="#fff"/>
<rect x="1293" y="448" width="1" height="23" fill="#000"/>
<rect x="1291" y="450" width="5" height="12" fill="#000"/>
<rect x="1301" y="456" width="1" height="39" fill="#000"/>
<rect x="1299" y="461" width="5" height="22" fill="#000"/>
<rect x="1309" y="452" width="1" height="41" fill="#000"/>
<rect x="1307" y="473" width="5" height="11" fill="#000"/>
<rect x="1308" y="474" width="3" height="9" fill="#fff"/>
<rect x="1317" y="467" width="1" height="40" fill="#000"/>
<rect x="1315" y="473" width="5" height="30" fill="#000"/>
<rect x="1325" y="492" width="1" height="21" fill="#000"/>
<rect x="1323" y="496" width="5" height="14" fill="#000"/>
<rect x="1324" y="497" width="3" height="12" fill="#fff"/>
<rect x="1333" y="499" width="1" height="8" fill="#000"/>
<rect x="1331" y="500" width="5" height="6" fill="#000"/>
<rect x="1332" y="501" width="3" height="4" fill="#fff"/>
<rect x="1341" y="472" width="1" height="36" fill="#000"/>
<rect x="1339" y="482" width="5" height="19" fill="#000"/>
<rect x="1340" y="483" width="3" height="17" fill="#fff"/>
<rect x="1349" y="471" width="1" height="27" fill="#000"/>
<rect x="1347" y="482" width="5" height="12" fill="#000"/>
<rect x="1357" y="455" width="1" height="43" fill="#000"/>
<rect x="1355" y="473" width="5" height="20" fill="#000"/>
<rect x="1356" y="474" width="3" height="18" fill="#fff"/>
<rect x="1365" y="454" width="1" height="38" fill="#000"/>
<rect x="1363" y="474" width="5" height="6" fill="#000"/>
<rect x="1373" y="460" width="1" height="28" fill="#000"/>
<rect x="1371" y="462" width="5" height="17" fill="#000"/>
<rect x="1372" y="463" width="3" height="15" fill="#fff"/>
<rect x="1381" y="454" width="1" height="22" fill="#000"/>
<rect x="1379" y="457" width="5" height="16" fill="#000"/>
<rect x="1380" y="458" width="3" height="14" fill="#fff"/>
<rect x="1389" y="416" width="1" height="50" fill="#000"/>
<rect x="1387" y="421" width="5" height="38" fill="#000"/>
<rect x="1388" y="422" width="3" height="36" fill="#fff"/>
<rect x="1397" y="399" width="1" height="36" fill="#000"/>
<rect x="1395" y="411" width="5" height="12" fill="#000"/>
<rect x="1396" y="412" width="3" height="10" fill="#fff"/>
<rect x="1405" y="394" width="1" height="24" fill="#000"/>
<rect x="1403" y="407" width="5" height="7" fill="#000"/>
<rect x="1404" y="408" width="3" height="5" fill="#fff"/>
<rect x="1413" y="363" width="1" height="45" fill="#000"/>
<rect x="1411" y="366" width="5" height="42" fill="#000"/>
<rect x="1412" y="367" width="3" height="40" fill="#fff"/>
</g>
<polyline class="crisp" points="0,685 12.5,685.75 25,685.75 37.5,684.5 50,683.25 60,681.25 77.5,681.25 87.5,683.25 100,688.75 110,696.25 120,702.5 130,712.5 140,721.25 150,728.75 162.5,735 175,741.25 185,743.75 195,744.25 202.5,742.5 212.5,738 225,733.25 237.5,728.75 250,723.75 260,720 275,716.25 290,711.25 305,705 320,700 335,694.25 350,690.75 362.5,688 375,685 387.5,680.75 400,675 412.5,667.5 425,660 431.5,657.5 432,656.25 444.5,652.5 457,650.75 469.5,649.5 482,651.25 494.5,650.75 507,647 517,642 524.5,637 532,631.25 542,623.75 549.5,618.75 557,613.75 564.5,608.75 572,605.5 579.5,604.5 589.5,604.5 597,607 609.5,611.75 619.5,617.5 632,624.5 644.5,632 654.5,637 664.5,640 674.5,644.25 684.5,647 694.5,651.25 709.5,653 717,656.75 732,660.5 744.5,664.25 757,666.25 767,665 779.5,660.75 789.5,656.25 799.5,652 812,650.75 832,650.75 844.5,651.75 863.5,652.5 864,651.75 876.5,650 889,646.25 901.5,642 914,640.5 936.5,640.5 949,642.5 964,644.5 974,647 984,651.25 996.5,658.25 1009,667.5 1021.5,677.5 1034,686.25 1046.5,696.25 1059,703.75 1069,708.25 1079,710.75 1094,713.25 1116.5,713.25 1124,710.75 1134,709.5 1146.5,704.5 1159,699.5 1174,693.75 1189,688.25 1204,686.75 1219,686.25 1231.5,685 1244,682 1259,678.25 1271.5,672.5 1284,663.75 1295.5,658.25 1301.5,654.25 1314,649.25 1326.5,645 1344,643.25 1364,643 1381.5,641.75 1394,639.5 1404,635 1413,630.75" fill="none" stroke="#ff0000" stroke-width="1" stroke-dasharray="3,3"/>
<polyline class="crisp" points="5,867.25 13,862.25 21,867.75 29,851.75 37,847.75 45,865.25 53,865.25 61,863 69,875.25 77,880.25 85,886 93,890.25 101,891.5 109,893 117,895.25 125,899.75 133,903 141,885.25 149,885.25 157,872.25 165,879 173,885.25 181,879 189,870.25 197,871.5 205,862.75 213,858 221,867.75 229,871.5 237,872.25 245,873.5 253,876.5 261,882.25 269,850.25 277,863 285,851.75 293,853 301,853 309,859 317,860.5 325,856 333,864.25 341,866.5 349,865.25 357,851 365,846.75 373,850.25 381,845.25 389,841 397,835.5 405,831.75 413,846.5 421,851 429,852.25 437,853.5 445,855.25 453,854.25 461,848 469,854.75 477,849.75 485,846 493,834.25 501,823.5 509,816 517,812.25 525,809.25 533,810.25 541,825.5 549,839 557,835.25 565,841 573,837.25 581,844.25 589,851 597,845.25 605,846.5 613,846.5 621,863 629,862.25 637,865.25 645,846.75 653,851 661,848.5 669,847.25 677,847.25 685,858.5 693,867.25 701,868 709,863.5 717,869 725,869 733,857.25 741,853.5 749,847.75 757,836 765,831.5 773,831 781,827.25 789,851 797,849.25 805,863.5 813,872.25 821,873.5 829,841.75 837,838.5 845,835.25 853,839.25 861,842.75 869,845.5 877,844 885,847.25 893,845.25 901,847.25 909,846 917,849.25 925,843 933,847.75 941,856 949,860.25 957,865.25 965,866.5 973,851.5 981,871.75 989,878.5 997,883 1005,884.25 1013,879 1021,881 1029,884.25 1037,881.5 1045,886 1053,873 1061,875.25 1069,878.5 1077,880.25 1085,880.25 1093,881.5 1101,883 1109,874.25 1117,874 1125,865.25 1133,865.25 1141,854.75 1149,856 1157,860.5 1165,872.25 1173,878 1181,864 1189,867.75 1197,873 1205,879.25 1213,879.25 1221,852.25 1229,848.5 1237,844.75 1245,839 1253,850.25 1261,846.75 1269,843.5 1277,834.75 1285,831 1293,837.75 1301,846 1309,842.25 1317,854.25 1325,851 1333,853.5 1341,845.5 1349,849.25 1357,841 1365,843 1373,836 1381,834 1389,821 1397,818 1405,816.75 1413,807.25" fill="none" stroke="#1e90ff" stroke-width="1"/>
<rect x="1375" y="371" width="101" height="6" fill="#00ff00"/>
<line x1="972.5" y1="334" x2="1101" y2="520" stroke="#00ff00" stroke-width="3.2"/><line x1="971.5" y1="335" x2="1095.2" y2="514.0" stroke="#ff0000" stroke-width="3.2" stroke-linecap="round"/><polygon points="1100.0,521.0 1090.2,515.0 1097.8,509.7" fill="#ff0000"/>
<line x1="1101" y1="522" x2="1145" y2="456" stroke="#00ff00" stroke-width="3.2"/><line x1="1100" y1="521" x2="1139.3" y2="462.1" stroke="#ff0000" stroke-width="3.2" stroke-linecap="round"/><polygon points="1144.0,455.0 1142.0,466.3 1134.3,461.2" fill="#ff0000"/>
<line x1="1144" y1="455" x2="1208.6" y2="563.2" stroke="#ff0000" stroke-width="3.2" stroke-linecap="round"/><polygon points="1213.0,570.5 1203.7,563.8 1211.6,559.1" fill="#ff0000"/>
<line x1="1213" y1="570.5" x2="1284.6" y2="452.3" stroke="#ff0000" stroke-width="3.2" stroke-linecap="round"/><polygon points="1289.0,445.0 1287.5,456.4 1279.6,451.6" fill="#ff0000"/>
<line x1="1289" y1="445" x2="1323.2" y2="502.7" stroke="#ff0000" stroke-width="3.2" stroke-linecap="round"/><polygon points="1327.5,510.0 1318.2,503.3 1326.1,498.6" fill="#ff0000"/>
<line x1="1327.5" y1="510" x2="1452.2" y2="352.2" stroke="#ff0000" stroke-width="3.2" stroke-linecap="round"/><polygon points="1457.5,345.5 1454.6,356.6 1447.4,350.9" fill="#ff0000"/>
<line x1="1119" y1="702.5" x2="1411.9" y2="607.1" stroke="#ff0000" stroke-width="3.2" stroke-linecap="round"/><polygon points="1420.0,604.5 1411.4,612.1 1408.6,603.4" fill="#ff0000"/>
<line x1="1179.5" y1="880.5" x2="1416.9" y2="809.0" stroke="#ff0000" stroke-width="3.2" stroke-linecap="round"/><polygon points="1425.0,806.5 1416.3,813.9 1413.6,805.1" fill="#ff0000"/>
<rect class="crisp" x="454.5" y="172.5" width="61" height="18" fill="#fff" stroke="#ff0000" stroke-width="1"/>
<text x="485.0" y="188" font-size="16.6" fill="#ff0000" text-anchor="middle" textLength="57.6" lengthAdjust="spacingAndGlyphs">0.92977</text>
<path class="crisp" d="M516 181.5H526" fill="none" stroke="#ff0000"/>
<rect class="crisp" x="278.5" y="388.5" width="61" height="18" fill="#fff" stroke="#ff0000" stroke-width="1"/>
<text x="309.0" y="404" font-size="16.6" fill="#ff0000" text-anchor="middle" textLength="57.6" lengthAdjust="spacingAndGlyphs">0.89978</text>
<rect class="crisp" x="339.5" y="395.5" width="3" height="3" fill="#fff" stroke="#ff0000"/><path class="crisp" d="M343 397.5H349" stroke="#ff0000" fill="none"/>
<rect class="crisp" x="742.5" y="400.5" width="61" height="18" fill="#fff" stroke="#ff0000" stroke-width="1"/>
<text x="773.0" y="416" font-size="16.6" fill="#ff0000" text-anchor="middle" textLength="57.6" lengthAdjust="spacingAndGlyphs">0.89812</text>
<path class="crisp" d="M804 409.5H813" stroke="#ff0000" fill="none"/>
<rect class="crisp" x="1142.5" y="562.5" width="61" height="18" fill="#fff" stroke="#ff0000" stroke-width="1"/>
<text x="1173.0" y="578" font-size="16.6" fill="#ff0000" text-anchor="middle" textLength="57.6" lengthAdjust="spacingAndGlyphs">0.87570</text>
<path class="crisp" d="M1204 571.5H1213" stroke="#ff0000" fill="none"/>
<rect class="crisp" x="1256.5" y="362.5" width="73" height="23" fill="#fff" stroke="#ff0000" stroke-width="1"/>
<text x="1293.0" y="382.5" font-size="21" fill="#ff0000" text-anchor="middle" textLength="70" lengthAdjust="spacingAndGlyphs">0.90297</text>
<rect class="crisp" x="1253.5" y="372.5" width="3" height="3" fill="#fff" stroke="#ff0000"/><path class="crisp" d="M1246 374.5H1253" stroke="#ff0000" fill="none"/>
<rect class="crisp" x="1470.5" y="391.5" width="110" height="24" fill="none" stroke="#404040" stroke-width="1"/>
<text x="1471.3" y="410.3" font-size="20" fill="#00ff00" letter-spacing="1.9" style="font-family:'Liberation Serif','Noto Serif CJK SC',serif">多空转折点</text>
<rect x="1523" y="389" width="3" height="2" fill="#00ff00"/>
<g class="crisp">
<rect x="0" y="31" width="1680" height="1" fill="#000"/>
<rect x="1679" y="31" width="1" height="902" fill="#000"/>
<rect x="0" y="932" width="1680" height="1" fill="#000"/>
<rect x="0" y="584" width="1680" height="1" fill="#000"/>
<rect x="0" y="586" width="1680" height="1" fill="#000"/>
<rect x="0" y="756" width="1680" height="1" fill="#000"/>
<rect x="0" y="758" width="1680" height="1" fill="#000"/>
<rect x="1680" y="584" width="46" height="3" fill="#fff"/><rect x="1680" y="756" width="46" height="3" fill="#fff"/>
<rect x="1680" y="53" width="2" height="1" fill="#000"/>
<rect x="1680" y="86" width="2" height="1" fill="#000"/>
<rect x="1680" y="119" width="2" height="1" fill="#000"/>
<rect x="1680" y="152" width="2" height="1" fill="#000"/>
<rect x="1680" y="185" width="2" height="1" fill="#000"/>
<rect x="1680" y="218" width="2" height="1" fill="#000"/>
<rect x="1680" y="251" width="2" height="1" fill="#000"/>
<rect x="1680" y="284" width="2" height="1" fill="#000"/>
<rect x="1680" y="317" width="2" height="1" fill="#000"/>
<rect x="1680" y="350" width="2" height="1" fill="#000"/>
<rect x="1680" y="383" width="2" height="1" fill="#000"/>
<rect x="1680" y="416" width="2" height="1" fill="#000"/>
<rect x="1680" y="449" width="2" height="1" fill="#000"/>
<rect x="1680" y="482" width="2" height="1" fill="#000"/>
<rect x="1680" y="515" width="2" height="1" fill="#000"/>
<rect x="1680" y="548" width="2" height="1" fill="#000"/>
<rect x="1680" y="581" width="2" height="1" fill="#000"/>
</g>
<text class="ax" transform="translate(1685.3 56.4) scale(0.94 1)">0.94740</text>
<text class="ax" transform="translate(1685.3 89.4) scale(0.94 1)">0.94290</text>
<text class="ax" transform="translate(1685.3 122.4) scale(0.94 1)">0.93830</text>
<text class="ax" transform="translate(1685.3 155.4) scale(0.94 1)">0.93370</text>
<text class="ax" transform="translate(1685.3 188.4) scale(0.94 1)">0.92910</text>
<text class="ax" transform="translate(1685.3 221.4) scale(0.94 1)">0.92460</text>
<text class="ax" transform="translate(1685.3 254.4) scale(0.94 1)">0.92000</text>
<text class="ax" transform="translate(1685.3 287.4) scale(0.94 1)">0.91540</text>
<text class="ax" transform="translate(1685.3 320.4) scale(0.94 1)">0.91080</text>
<text class="ax" transform="translate(1685.3 353.4) scale(0.94 1)">0.90630</text>
<text class="ax" transform="translate(1685.3 386.4) scale(0.94 1)">0.90170</text>
<text class="ax" transform="translate(1685.3 419.4) scale(0.94 1)">0.89710</text>
<text class="ax" transform="translate(1685.3 452.4) scale(0.94 1)">0.89250</text>
<text class="ax" transform="translate(1685.3 485.4) scale(0.94 1)">0.88800</text>
<text class="ax" transform="translate(1685.3 518.4) scale(0.94 1)">0.88340</text>
<text class="ax" transform="translate(1685.3 551.4) scale(0.94 1)">0.87880</text>
<text class="ax" transform="translate(1685.3 584.4) scale(0.94 1)">0.87420</text>
<rect class="crisp" x="1681" y="322" width="41" height="11" fill="#ff0000"/>
<text class="axw" transform="translate(1685.5 330.9) scale(0.94 1)">0.90933</text>
<rect class="crisp" x="1674.5" y="326.5" width="4" height="4" fill="#fff" stroke="#ff0000"/>
<rect class="crisp" x="1681" y="338" width="41" height="11" fill="#ff0000"/>
<text class="axw" transform="translate(1685.5 346.9) scale(0.94 1)">0.90712</text>
<rect class="crisp" x="1674.5" y="342.5" width="4" height="4" fill="#fff" stroke="#ff0000"/>
<rect class="crisp" x="1681" y="360" width="41" height="11" fill="#000000"/>
<text class="axw" transform="translate(1685.5 368.9) scale(0.94 1)">0.90401</text>
<rect class="crisp" x="1681" y="368" width="41" height="11" fill="#ffa500"/>
<text class="axw" transform="translate(1685.5 376.9) scale(0.94 1)">0.90297</text>
<rect class="crisp" x="1681" y="384" width="41" height="11" fill="#0000ff"/>
<text class="axw" transform="translate(1685.5 392.9) scale(0.94 1)">0.90075</text>
<rect class="crisp" x="1674.5" y="388.5" width="4" height="4" fill="#fff" stroke="#0000ff"/>
<rect class="crisp" x="1681" y="407" width="41" height="11" fill="#0000ff"/>
<text class="axw" transform="translate(1685.5 415.9) scale(0.94 1)">0.89757</text>
<rect class="crisp" x="1674.5" y="411.5" width="4" height="4" fill="#fff" stroke="#0000ff"/>
<text class="ax" transform="translate(1683.5 597.0) scale(0.94 1)">0.004351</text>
<text class="ax" transform="translate(1683.5 643.8) scale(0.94 1)">0.00</text>
<text class="ax" transform="translate(1683.5 752.1999999999999) scale(0.94 1)">-0.009504</text>
<rect class="crisp" x="1680" y="640" width="2" height="1" fill="#000"/>
<text class="ax" transform="translate(1683.5 769.3) scale(0.94 1)">100</text>
<text class="ax" transform="translate(1683.5 798.3) scale(0.94 1)">80</text>
<text class="ax" transform="translate(1683.5 849.3) scale(0.94 1)">50</text>
<text class="ax" transform="translate(1683.5 909.8) scale(0.94 1)">15</text>
<text class="ax" transform="translate(1683.5 929.3) scale(0.94 1)">0</text>
<text class="ax" x="-7.5" y="598.2" textLength="148.3" lengthAdjust="spacingAndGlyphs">MACD(12,26,9) 0.002815 0.000805</text>
<text class="ax" x="-7" y="770.6" textLength="67.5" lengthAdjust="spacingAndGlyphs">RSI(14) 72.6787</text>
<text class="ax" x="4" y="42.5" textLength="214.5" lengthAdjust="spacingAndGlyphs">USDCHF-,Daily&#160;&#160;0.89836 0.90441 0.89831 0.90401</text>
<text class="ax" transform="translate(-11.5 944.4) scale(0.94 1)">9 Jul 2020</text>
<rect class="crisp" x="53" y="933" width="1" height="4" fill="#000"/>
<text class="ax" transform="translate(52.5 944.4) scale(0.94 1)">19 Jul 2020</text>
<rect class="crisp" x="117" y="933" width="1" height="4" fill="#000"/>
<text class="ax" transform="translate(116.5 944.4) scale(0.94 1)">28 Jul 2020</text>
<rect class="crisp" x="181" y="933" width="1" height="4" fill="#000"/>
<text class="ax" transform="translate(180.5 944.4) scale(0.94 1)">6 Aug 2020</text>
<rect class="crisp" x="245" y="933" width="1" height="4" fill="#000"/>
<text class="ax" transform="translate(244.5 944.4) scale(0.94 1)">16 Aug 2020</text>
<rect class="crisp" x="309" y="933" width="1" height="4" fill="#000"/>
<text class="ax" transform="translate(308.5 944.4) scale(0.94 1)">25 Aug 2020</text>
<rect class="crisp" x="373" y="933" width="1" height="4" fill="#000"/>
<text class="ax" transform="translate(372.5 944.4) scale(0.94 1)">3 Sep 2020</text>
<rect class="crisp" x="437" y="933" width="1" height="4" fill="#000"/>
<text class="ax" transform="translate(436.5 944.4) scale(0.94 1)">13 Sep 2020</text>
<rect class="crisp" x="501" y="933" width="1" height="4" fill="#000"/>
<text class="ax" transform="translate(500.5 944.4) scale(0.94 1)">22 Sep 2020</text>
<rect class="crisp" x="565" y="933" width="1" height="4" fill="#000"/>
<text class="ax" transform="translate(564.5 944.4) scale(0.94 1)">1 Oct 2020</text>
<rect class="crisp" x="629" y="933" width="1" height="4" fill="#000"/>
<text class="ax" transform="translate(628.5 944.4) scale(0.94 1)">11 Oct 2020</text>
<rect class="crisp" x="693" y="933" width="1" height="4" fill="#000"/>
<text class="ax" transform="translate(692.5 944.4) scale(0.94 1)">20 Oct 2020</text>
<rect class="crisp" x="757" y="933" width="1" height="4" fill="#000"/>
<text class="ax" transform="translate(756.5 944.4) scale(0.94 1)">29 Oct 2020</text>
<rect class="crisp" x="821" y="933" width="1" height="4" fill="#000"/>
<text class="ax" transform="translate(820.5 944.4) scale(0.94 1)">8 Nov 2020</text>
<rect class="crisp" x="885" y="933" width="1" height="4" fill="#000"/>
<text class="ax" transform="translate(884.5 944.4) scale(0.94 1)">17 Nov 2020</text>
<rect class="crisp" x="949" y="933" width="1" height="4" fill="#000"/>
<text class="ax" transform="translate(948.5 944.4) scale(0.94 1)">26 Nov 2020</text>
<rect class="crisp" x="1013" y="933" width="1" height="4" fill="#000"/>
<text class="ax" transform="translate(1012.5 944.4) scale(0.94 1)">6 Dec 2020</text>
<rect class="crisp" x="1077" y="933" width="1" height="4" fill="#000"/>
<text class="ax" transform="translate(1076.5 944.4) scale(0.94 1)">15 Dec 2020</text>
<rect class="crisp" x="1141" y="933" width="1" height="4" fill="#000"/>
<text class="ax" transform="translate(1140.5 944.4) scale(0.94 1)">24 Dec 2020</text>
<rect class="crisp" x="1205" y="933" width="1" height="4" fill="#000"/>
<text class="ax" transform="translate(1204.5 944.4) scale(0.94 1)">5 Jan 2021</text>
<rect class="crisp" x="1269" y="933" width="1" height="4" fill="#000"/>
<text class="ax" transform="translate(1268.5 944.4) scale(0.94 1)">14 Jan 2021</text>
<rect class="crisp" x="1333" y="933" width="1" height="4" fill="#000"/>
<text class="ax" transform="translate(1332.5 944.4) scale(0.94 1)">24 Jan 2021</text>
<rect class="crisp" x="1397" y="933" width="1" height="4" fill="#000"/>
<text class="ax" transform="translate(1396.5 944.4) scale(0.94 1)">2 Feb 2021</text>
<polygon points="1420,32 1429,32 1424.5,37" fill="#c0c0c0"/>
<rect x="0" y="952" width="1726" height="2" fill="#e4e4e4"/>
<rect x="1725" y="29" width="1" height="925" fill="#e8e8e8"/>
<g>
<rect x="0" y="50" width="212" height="67" fill="#fff"/>
<rect x="0" y="51" width="44" height="25" fill="url(#gsell)"/>
<rect x="160" y="51" width="51" height="25" fill="url(#gsell)"/>
<rect x="0" y="75.500" width="101" height="39.5" fill="url(#gprice)"/>
<rect x="103" y="75.5" width="108" height="39.500" fill="url(#gprice)"/>
<rect x="0" y="75" width="40" height="1" fill="#7a7af4"/><rect x="163" y="74.700" width="44" height="1" fill="#8080f4"/>
<rect x="44" y="50" width="115.600" height="25.200" fill="#fff"/><rect class="crisp" x="46.500" y="51.500" width="111" height="21" fill="#fff" stroke="#a8acb4"/>
<rect class="crisp" x="47.500" y="52.500" width="19" height="19" fill="url(#gbtn)" stroke="#c4c4c4"/>
<rect class="crisp" x="136.500" y="52.500" width="20" height="19" fill="url(#gbtn)" stroke="#c4c4c4"/>
<polygon points="54,60 59.500,60 56.700,63.200" fill="#4060c0"/><polygon points="143.500,63.200 149,63.200 146.200,60" fill="#4060c0"/>
<text x="131.800" y="65.600" font-size="11.800" text-anchor="end" fill="#000">1.00</text>
<text x="4.500" y="67" font-size="12" fill="#fff" textLength="25.5" lengthAdjust="spacingAndGlyphs">SELL</text>
<text x="172.500" y="66.800" font-size="12.300" fill="#fff" textLength="23.500" lengthAdjust="spacingAndGlyphs">BUY</text>
<text x="12.300" y="106" font-size="12" font-weight="bold" fill="#fff">0.90</text>
<text x="38.500" y="106" font-size="33" fill="#fff">40</text>
<text x="79" y="90" font-size="12.500" font-weight="bold" fill="#fff">1</text>
<text x="122.300" y="106" font-size="12" font-weight="bold" fill="#fff">0.90</text>
<text x="149.500" y="106" font-size="33" fill="#fff">43</text>
<text x="190" y="90" font-size="12.500" font-weight="bold" fill="#fff">8</text>
</g>
<g id="toolbar">
<rect x="0" y="0" width="1726" height="29" fill="#f0f0f0"/>
<rect class="crisp" x="0" y="0" width="1726" height="1" fill="#b4b4b4"/>
<rect class="crisp" x="0" y="1" width="1726" height="1" fill="#fcfcfc"/>
<rect class="crisp" x="0" y="27" width="1726" height="1" fill="#a6a6a6"/>
<rect class="crisp" x="0" y="28" width="1726" height="1" fill="#6c6c6c"/>
<rect class="crisp" x="0" y="29" width="1726" height="2" fill="#fff"/>
<rect x="-4" y="8.500" width="6.800" height="13" fill="#fff" stroke="#4a88e0" stroke-width="0.900"/><path d="M0 11.500H2M0 13.500H2M0 15.500H2M0 17.500H2" stroke="#b4ccf4" stroke-width="0.800"/>
<rect x="15.500" y="7.5" width="12" height="13" rx="1" fill="#f6f2ea" stroke="#c4b8a0"/>
<path d="M19 10V17M23.500 9.500V16M17.500 11H21M22 10.500H25.500" stroke="#9098a8" stroke-width="1" fill="none"/>
<line x1="27" y1="19.500" x2="31.800" y2="23.500" stroke="#c89a28" stroke-width="2.6" stroke-linecap="round"/>
<circle cx="23.100" cy="15.800" r="5" fill="#d4e4f8" fill-opacity="0.85" stroke="#6a9ae4" stroke-width="1.2"/>
<path d="M22 13.500V18.500M24.500 13V17.500" stroke="#9aa8c0" stroke-width="1.600"/>
<rect class="crisp" x="40" y="4" width="1" height="21" fill="#a0a0a0"/>
<path d="M50.500 8.500Q50.500 7.500 51.500 7.500H58L61.500 11V19.500Q61.500 20.500 60.500 20.500H51.500Q50.500 20.500 50.500 19.500Z" fill="#fff" stroke="#8a8a8a"/>
<path d="M58 7.500V11H61.500" fill="#e8e8e8" stroke="#8a8a8a"/>
<path d="M52.500 10.500H56M52.500 13.500H59M52.500 16H57" stroke="#a0a0a0" stroke-width="1.2"/>
<path d="M58.300 13.800H61.700V17.500H65.400V20.900H61.700V24.600H58.300V20.900H54.600V17.500H58.300Z" fill="#2ad02a" stroke="#0a8a0a" stroke-width="1"/>
<text x="69" y="18.900" font-size="12.2" fill="#000">新订单</text>
<defs><linearGradient id="ggold" x1="0" y1="0" x2="1" y2="1"><stop offset="0" stop-color="#e8b020"/><stop offset="0.45" stop-color="#ffe460"/><stop offset="1" stop-color="#d89818"/></linearGradient><linearGradient id="gcloud" x1="0" y1="0" x2="0" y2="1"><stop offset="0" stop-color="#ffffff"/><stop offset="1" stop-color="#c4d4ee"/></linearGradient><radialGradient id="ggreen" cx="0.5" cy="0.5" r="0.5"><stop offset="0" stop-color="#30a040" stop-opacity="0.15"/><stop offset="1" stop-color="#30a040" stop-opacity="0.75"/></radialGradient><linearGradient id="ghat" x1="0" y1="0" x2="0" y2="1"><stop offset="0" stop-color="#7cc4f0"/><stop offset="1" stop-color="#2a80c4"/></linearGradient><linearGradient id="gfun" x1="0" y1="0" x2="1" y2="1"><stop offset="0" stop-color="#fff080"/><stop offset="1" stop-color="#e8a818"/></linearGradient></defs>
<path d="M117.100 16.800L124.500 22.900L132.800 16.900L132.800 15.100L124.700 21.100L117.400 16.200Z" fill="#b07818" stroke="#a06810" stroke-width="0.6"/>
<path d="M123 8.100L132.500 15.100L124.700 21.200L117.300 16.500Z" fill="url(#ggold)" stroke="#b88018" stroke-width="0.9"/>
<path d="M147.400 8.300L152.800 7L157.600 9V16H150.200L147.400 15Z" fill="#2a90f0" stroke="#1868d8" stroke-width="0.7"/>
<path d="M147.400 8.300L150.200 9.300V16L147.400 15Z" fill="#0a68e0"/>
<path d="M151.500 11.700H156.500M152.500 13.300H156" stroke="#b8dcff" stroke-width="0.9"/>
<path d="M148 22.300Q145.100 22.300 145.300 19.900Q145.600 17.800 148.200 17.800Q149 15.100 152 15.300Q154.200 15.500 155 17.200Q156.700 16.300 158 17.500Q161 17.600 161 20.100Q161 22.300 158.200 22.300Z" fill="url(#gcloud)" stroke="#5878b8" stroke-width="0.9"/>
<defs><radialGradient id="ggreen2" gradientUnits="userSpaceOnUse" cx="181" cy="14.400" r="7.800"><stop offset="0.1" stop-color="#40a850" stop-opacity="0.1"/><stop offset="1" stop-color="#40a850" stop-opacity="0.7"/></radialGradient></defs>
<circle cx="181" cy="14.400" r="7.400" fill="none" stroke="#a0b8ea" stroke-width="0.900"/>
<circle cx="181" cy="14.400" r="5.200" fill="none" stroke="#6e92e0" stroke-width="1"/>
<circle cx="181" cy="14.400" r="3.100" fill="none" stroke="#5a82dc" stroke-width="0.900"/>
<path d="M181 14.400L181 22.200A7.800 7.800 0 0 0 184.200 7.300Z" fill="#f0f0f0" fill-opacity="0.55"/>
<path d="M181 14.400L181 22.200A7.800 7.800 0 0 0 184.200 7.300Z" fill="url(#ggreen2)"/>
<circle cx="181" cy="14.400" r="1.700" fill="#2a5ad8"/><path d="M181.400 15V22.500" stroke="#18a028" stroke-width="1.400"/>
<path d="M200.600 13.500L207.600 22.800L211 19L215.200 13.500Z" fill="url(#gfun)" stroke="#d8a020" stroke-width="0.600"/>
<ellipse cx="207.900" cy="11.800" rx="7.800" ry="2.500" fill="url(#ghat)" stroke="#2a78c0" stroke-width="0.600"/>
<path d="M203.600 11Q204 6.900 207.900 6.900Q211.800 6.900 212.200 11Q208 12.500 203.600 11Z" fill="url(#ghat)" stroke="#3a88c8" stroke-width="0.500"/>
<circle cx="212.600" cy="18.700" r="4" fill="#e02410"/><rect x="211" y="17.100" width="3.300" height="3.300" fill="#fff"/>
<text x="221" y="19.100" font-size="12.200" fill="#000">自动交易</text>
<rect class="crisp" x="276" y="2" width="1" height="25" fill="#a0a0a0"/><rect class="crisp" x="277" y="2" width="1" height="25" fill="#fff"/>
<rect class="crisp" x="280" y="5" width="3" height="1" fill="#a8a8a8"/>
<rect class="crisp" x="280" y="7" width="3" height="1" fill="#a8a8a8"/>
<rect class="crisp" x="280" y="9" width="3" height="1" fill="#a8a8a8"/>
<rect class="crisp" x="280" y="11" width="3" height="1" fill="#a8a8a8"/>
<rect class="crisp" x="280" y="13" width="3" height="1" fill="#a8a8a8"/>
<rect class="crisp" x="280" y="15" width="3" height="1" fill="#a8a8a8"/>
<rect class="crisp" x="280" y="17" width="3" height="1" fill="#a8a8a8"/>
<rect class="crisp" x="280" y="19" width="3" height="1" fill="#a8a8a8"/>
<rect class="crisp" x="280" y="21" width="3" height="1" fill="#a8a8a8"/>
<rect class="crisp" x="280" y="23" width="3" height="1" fill="#a8a8a8"/>
<path d="M294.5 9.5V22.500M292.0 20.500H305.5M292.5 12L294.5 9.200L296.5 12M303.5 18.500L305.8 20.500L303.5 22.500" fill="none" stroke="#555" stroke-width="1"/>
<path d="M301.500 10.500V18M301.500 11H304M301.500 17.500H298.500" stroke="#1a9a1a" stroke-width="1.300" fill="none"/>
<rect class="crisp" x="314" y="3" width="25" height="22" fill="#f8f8f8"/>
<rect class="crisp" x="314" y="3" width="25" height="1" fill="#a0a0a0"/><rect class="crisp" x="314" y="3" width="1" height="22" fill="#a0a0a0"/>
<rect class="crisp" x="338" y="4" width="1" height="21" fill="#fff"/><rect class="crisp" x="315" y="24" width="24" height="1" fill="#fff"/>
<path d="M322.5 9.5V22.500M320.0 20.500H333.5M320.5 12L322.5 9.200L324.5 12M331.5 18.500L333.8 20.500L331.5 22.500" fill="none" stroke="#555" stroke-width="1"/>
<path d="M328.500 7.200V18.800" stroke="#0a7a0a" stroke-width="1.200"/><rect x="326.200" y="9.500" width="4.600" height="7" fill="#2ad42a" stroke="#0a8a0a" stroke-width="0.900"/>
<path d="M350.5 9.5V22.500M348.0 20.500H361.5M348.5 12L350.5 9.200L352.5 12M359.5 18.500L361.8 20.500L359.5 22.500" fill="none" stroke="#555" stroke-width="1"/>
<path d="M349.500 17.600Q353 12.300 355.500 12.200Q357.500 12.300 361 16.300" fill="none" stroke="#2a9a2a" stroke-width="1.300"/>
<rect class="crisp" x="371" y="4" width="1" height="21" fill="#a0a0a0"/>
<line x1="390.4" y1="17.5" x2="395.09999999999997" y2="22" stroke="#d4b030" stroke-width="3" stroke-linecap="round"/>
<line x1="390.9" y1="18" x2="394.9" y2="21.8" stroke="#f0dc70" stroke-width="1" stroke-linecap="round"/>
<circle cx="385.9" cy="13.200" r="5.400" fill="#d6e8fa" stroke="#2a7ad4" stroke-width="1.400"/>
<path d="M382.9 13.200H388.9" stroke="#3a8ac8" stroke-width="1.800"/>
<path d="M385.9 10.200V16.200" stroke="#3a8ac8" stroke-width="1.800"/>
<line x1="418.5" y1="17.5" x2="423.2" y2="22" stroke="#d4b030" stroke-width="3" stroke-linecap="round"/>
<line x1="419" y1="18" x2="423" y2="21.8" stroke="#f0dc70" stroke-width="1" stroke-linecap="round"/>
<circle cx="414" cy="13.200" r="5.400" fill="#d6e8fa" stroke="#2a7ad4" stroke-width="1.400"/>
<path d="M411 13.200H417" stroke="#3a8ac8" stroke-width="1.800"/>
<rect x="436.3" y="7.2" width="7.800" height="7.800" fill="#3aa828"/><rect x="436.3" y="7.2" width="7.800" height="2" fill="#1e8a10"/>
<rect x="437.6" y="10.4" width="5.200" height="3.600" fill="#fff" fill-opacity="0.92"/><rect x="438.6" y="11.7" width="3.200" height="0.800" fill="#3aa828"/>
<rect x="444.5" y="7.2" width="7.800" height="7.800" fill="#2a62d8"/><rect x="444.5" y="7.2" width="7.800" height="2" fill="#1a48b8"/>
<rect x="445.8" y="10.4" width="5.200" height="3.600" fill="#fff" fill-opacity="0.92"/><rect x="446.8" y="11.7" width="3.200" height="0.800" fill="#2a62d8"/>
<rect x="436.3" y="15.4" width="7.800" height="7.800" fill="#2a62d8"/><rect x="436.3" y="15.4" width="7.800" height="2" fill="#1a48b8"/>
<rect x="437.6" y="18.6" width="5.200" height="3.600" fill="#fff" fill-opacity="0.92"/><rect x="438.6" y="19.9" width="3.200" height="0.800" fill="#2a62d8"/>
<rect x="444.5" y="15.4" width="7.800" height="7.800" fill="#3aa828"/><rect x="444.5" y="15.4" width="7.800" height="2" fill="#1e8a10"/>
<rect x="445.8" y="18.6" width="5.200" height="3.600" fill="#fff" fill-opacity="0.92"/><rect x="446.8" y="19.9" width="3.200" height="0.800" fill="#3aa828"/>
<rect class="crisp" x="461" y="4" width="1" height="21" fill="#a0a0a0"/>
<rect class="crisp" x="466" y="3" width="25" height="22" fill="#f8f8f8"/>
<rect class="crisp" x="466" y="3" width="25" height="1" fill="#a0a0a0"/><rect class="crisp" x="466" y="3" width="1" height="22" fill="#a0a0a0"/>
<rect class="crisp" x="490" y="4" width="1" height="21" fill="#fff"/><rect class="crisp" x="467" y="24" width="24" height="1" fill="#fff"/>
<path d="M474.5 9.5V22.500M472.0 20.500H485.5M472.5 12L474.5 9.200L476.5 12M483.5 18.500L485.8 20.500L483.5 22.500" fill="none" stroke="#555" stroke-width="1"/>
<path d="M479.300 10.500V18.200L483.300 14.300Z" fill="#b8f0b8" stroke="#22a022" stroke-width="1.100"/>
<rect class="crisp" x="494" y="3" width="25" height="22" fill="#f8f8f8"/>
<rect class="crisp" x="494" y="3" width="25" height="1" fill="#a0a0a0"/><rect class="crisp" x="494" y="3" width="1" height="22" fill="#a0a0a0"/>
<rect class="crisp" x="518" y="4" width="1" height="21" fill="#fff"/><rect class="crisp" x="495" y="24" width="24" height="1" fill="#fff"/>
<path d="M502.5 9.5V22.500M500.0 20.500H513.5M500.5 12L502.5 9.200L504.5 12M511.5 18.500L513.8 20.500L511.5 22.500" fill="none" stroke="#555" stroke-width="1"/>
<path d="M508.500 9.300V18.800" stroke="#2060c0" stroke-width="1.300"/><path d="M514.300 14.300H510M512 12L509.800 14.300L512 16.600" stroke="#e04810" stroke-width="1.200" fill="none"/>
<rect class="crisp" x="523" y="4" width="1" height="21" fill="#a0a0a0"/>
<path d="M533.500 8.500Q533.500 7.500 534.500 7.500H541L544.500 11V19.500Q544.500 20.500 543.500 20.500H534.500Q533.500 20.500 533.500 19.500Z" fill="#fff" stroke="#8a8a8a"/>
<path d="M541 7.500V11H544.500" fill="#e8e8e8" stroke="#8a8a8a"/>
<path d="M538.500 10Q536.500 9.500 536.500 11.500V17.500M535.300 13H538" stroke="#606060" stroke-width="1" fill="none"/>
<path d="M541.400 13.300H544.800V17H548.500V20.400H544.800V24.100H541.400V20.400H537.700V17H541.400Z" fill="#2ad02a" stroke="#0a8a0a" stroke-width="1"/>
<polygon points="554.8000000000001,13.8 560.4,13.8 557.6,17" fill="#000"/>
<circle cx="579" cy="14.900" r="6.800" fill="#f4f8ff" stroke="#1a68dc" stroke-width="2.200"/>
<circle cx="579" cy="14.900" r="7.800" fill="none" stroke="#0a48b0" stroke-width="0.500"/>
<path d="M579 10.500V15H582.300" stroke="#404850" stroke-width="1.200" fill="none"/><path d="M576 18.500H582" stroke="#9ab0d0" stroke-width="1"/>
<polygon points="593.8000000000001,13.8 599.4,13.8 596.6,17" fill="#000"/>
<rect x="610.500" y="7.800" width="15" height="13.500" fill="#fff" stroke="#2a6ae0" stroke-width="1"/>
<rect x="610.500" y="7.800" width="15" height="2.800" fill="#4a8af0" stroke="#2a6ae0" stroke-width="1"/>
<path d="M611 15.500H625" stroke="#7aa0e8" stroke-width="1"/>
<path d="M612.500 13.800L615 12.600L617.500 13.500L620 12.200L623.500 12.800" stroke="#b02010" stroke-width="1.200" fill="none"/>
<path d="M612.500 19.200L615 18L617.500 19L620.500 17.300L623.500 19" stroke="#20a020" stroke-width="1.200" fill="none"/>
<polygon points="632.8000000000001,13.8 638.4,13.8 635.6,17" fill="#000"/>
<rect class="crisp" x="644" y="2" width="1" height="25" fill="#a0a0a0"/><rect class="crisp" x="645" y="2" width="1" height="25" fill="#fff"/>
<rect class="crisp" x="648" y="5" width="3" height="1" fill="#a8a8a8"/>
<rect class="crisp" x="648" y="7" width="3" height="1" fill="#a8a8a8"/>
<rect class="crisp" x="648" y="9" width="3" height="1" fill="#a8a8a8"/>
<rect class="crisp" x="648" y="11" width="3" height="1" fill="#a8a8a8"/>
<rect class="crisp" x="648" y="13" width="3" height="1" fill="#a8a8a8"/>
<rect class="crisp" x="648" y="15" width="3" height="1" fill="#a8a8a8"/>
<rect class="crisp" x="648" y="17" width="3" height="1" fill="#a8a8a8"/>
<rect class="crisp" x="648" y="19" width="3" height="1" fill="#a8a8a8"/>
<rect class="crisp" x="648" y="21" width="3" height="1" fill="#a8a8a8"/>
<rect class="crisp" x="648" y="23" width="3" height="1" fill="#a8a8a8"/>
<rect class="crisp" x="654" y="3" width="25" height="22" fill="#f8f8f8"/>
<rect class="crisp" x="654" y="3" width="25" height="1" fill="#a0a0a0"/><rect class="crisp" x="654" y="3" width="1" height="22" fill="#a0a0a0"/>
<rect class="crisp" x="678" y="4" width="1" height="21" fill="#fff"/><rect class="crisp" x="655" y="24" width="24" height="1" fill="#fff"/>
<path d="M662 8.300V19.600L664.800 17.100L667.300 21.800L669.200 20.900L666.800 16.300L670.300 16Z" fill="#484848"/>
<path d="M687 15.500H693M696 15.500H702M694.500 8V14M694.500 17V23" stroke="#404040" stroke-width="1.100" fill="none"/>
<rect class="crisp" x="711" y="4" width="1" height="21" fill="#a0a0a0"/>
<path d="M728.600 9.400V21.800" stroke="#484848" stroke-width="1.200"/>
<path d="M751 15.400H763" stroke="#484848" stroke-width="1.200"/>
<path d="M778.800 21.800L790.900 10.100" stroke="#484848" stroke-width="1.200"/>
<path d="M804.500 17L815.500 8M806 20.500L818 11M807 14.200L809.500 22M810.500 11.500L813 19M814 8.800L816 15.500" stroke="#484848" stroke-width="1" fill="none"/>
<text x="815.800" y="23.700" font-size="6.500" font-weight="bold" fill="#303030">E</text>
<line x1="834" y1="8.3" x2="847" y2="8.3" stroke="#484848" stroke-width="1" stroke-dasharray="1,1"/>
<line x1="834" y1="11" x2="847" y2="11" stroke="#484848" stroke-width="1" stroke-dasharray="1,1"/>
<line x1="834" y1="15.4" x2="847" y2="15.4" stroke="#484848" stroke-width="1" stroke-dasharray="1,1"/>
<line x1="834" y1="19.8" x2="843" y2="19.8" stroke="#484848" stroke-width="1" stroke-dasharray="1,1"/>
<text x="843.800" y="23.700" font-size="6.500" font-weight="bold" fill="#303030">F</text>
<text x="868.600" y="19.800" font-size="12.500" fill="#505050" text-anchor="middle" stroke="#505050" stroke-width="0.300">A</text>
<rect x="891.500" y="9.300" width="11" height="12" fill="none" stroke="#484848" stroke-width="1" stroke-dasharray="1,1"/>
<text x="897" y="19.800" font-size="11.500" font-weight="bold" fill="#484848" text-anchor="middle">T</text>
<path d="M922 8.800L925 11.800L922 14.300L919 11.800Z" fill="#484848"/><path d="M928.500 16.500L931.800 19.300L928.500 22.300L925.300 19.300Z" fill="#484848"/><path d="M920.500 16L922.800 18.200L927.500 12.500" stroke="#484848" stroke-width="1.300" fill="none"/>
<polygon points="938.7,13.8 944.3,13.8 941.5,17" fill="#000"/>
<rect class="crisp" x="950" y="2" width="1" height="25" fill="#a0a0a0"/><rect class="crisp" x="951" y="2" width="1" height="25" fill="#fff"/>
<rect class="crisp" x="954" y="5" width="3" height="1" fill="#a8a8a8"/>
<rect class="crisp" x="954" y="7" width="3" height="1" fill="#a8a8a8"/>
<rect class="crisp" x="954" y="9" width="3" height="1" fill="#a8a8a8"/>
<rect class="crisp" x="954" y="11" width="3" height="1" fill="#a8a8a8"/>
<rect class="crisp" x="954" y="13" width="3" height="1" fill="#a8a8a8"/>
<rect class="crisp" x="954" y="15" width="3" height="1" fill="#a8a8a8"/>
<rect class="crisp" x="954" y="17" width="3" height="1" fill="#a8a8a8"/>
<rect class="crisp" x="954" y="19" width="3" height="1" fill="#a8a8a8"/>
<rect class="crisp" x="954" y="21" width="3" height="1" fill="#a8a8a8"/>
<rect class="crisp" x="954" y="23" width="3" height="1" fill="#a8a8a8"/>
<rect class="crisp" x="1128" y="3" width="25" height="22" fill="#f8f8f8"/>
<rect class="crisp" x="1128" y="3" width="25" height="1" fill="#a0a0a0"/><rect class="crisp" x="1128" y="3" width="1" height="22" fill="#a0a0a0"/>
<rect class="crisp" x="1152" y="4" width="1" height="21" fill="#fff"/><rect class="crisp" x="1129" y="24" width="24" height="1" fill="#fff"/>
<text class="tf" x="971.7" y="18.700" text-anchor="middle">M1</text>
<text class="tf" x="999.7" y="18.700" text-anchor="middle">M5</text>
<text class="tf" x="1028" y="18.700" text-anchor="middle">M15</text>
<text class="tf" x="1056" y="18.700" text-anchor="middle">M30</text>
<text class="tf" x="1084.7" y="18.700" text-anchor="middle">H1</text>
<text class="tf" x="1112" y="18.700" text-anchor="middle">H4</text>
<text class="tf" x="1140.5" y="18.700" text-anchor="middle">D1</text>
<text class="tf" x="1169" y="18.700" text-anchor="middle">W1</text>
<text class="tf" x="1196" y="18.700" text-anchor="middle">MN</text>
<rect class="crisp" x="1211" y="4" width="1" height="21" fill="#a0a0a0"/>
<line x1="1674.200" y1="19.500" x2="1678.300" y2="15.700" stroke="#2a5ad0" stroke-width="2.500" stroke-linecap="round"/><circle cx="1681.700" cy="12.300" r="4" fill="#f6f6fc" stroke="#2a5ad0" stroke-width="1.400"/>
<defs><linearGradient id="gbadge" x1="0" y1="0" x2="0" y2="1"><stop offset="0" stop-color="#ea4c34"/><stop offset="1" stop-color="#d4240c"/></linearGradient><linearGradient id="gbub" x1="0" y1="0" x2="0" y2="1"><stop offset="0" stop-color="#ffffff"/><stop offset="1" stop-color="#d4d4dc"/></linearGradient></defs>
<path d="M1698 16.700Q1698 12.200 1703.700 12.200Q1709.400 12.200 1709.400 16.700Q1709.400 21 1704.500 21.200L1701.500 23.500L1702 21Q1698 20.300 1698 16.700Z" fill="url(#gbub)" stroke="#b4b4b4" stroke-width="0.800"/>
<circle cx="1712.500" cy="12.300" r="8.200" fill="url(#gbadge)"/><text x="1711.600" y="17" font-size="12.300" fill="#fff" text-anchor="middle">1</text>
</g>
</svg></body></html>
